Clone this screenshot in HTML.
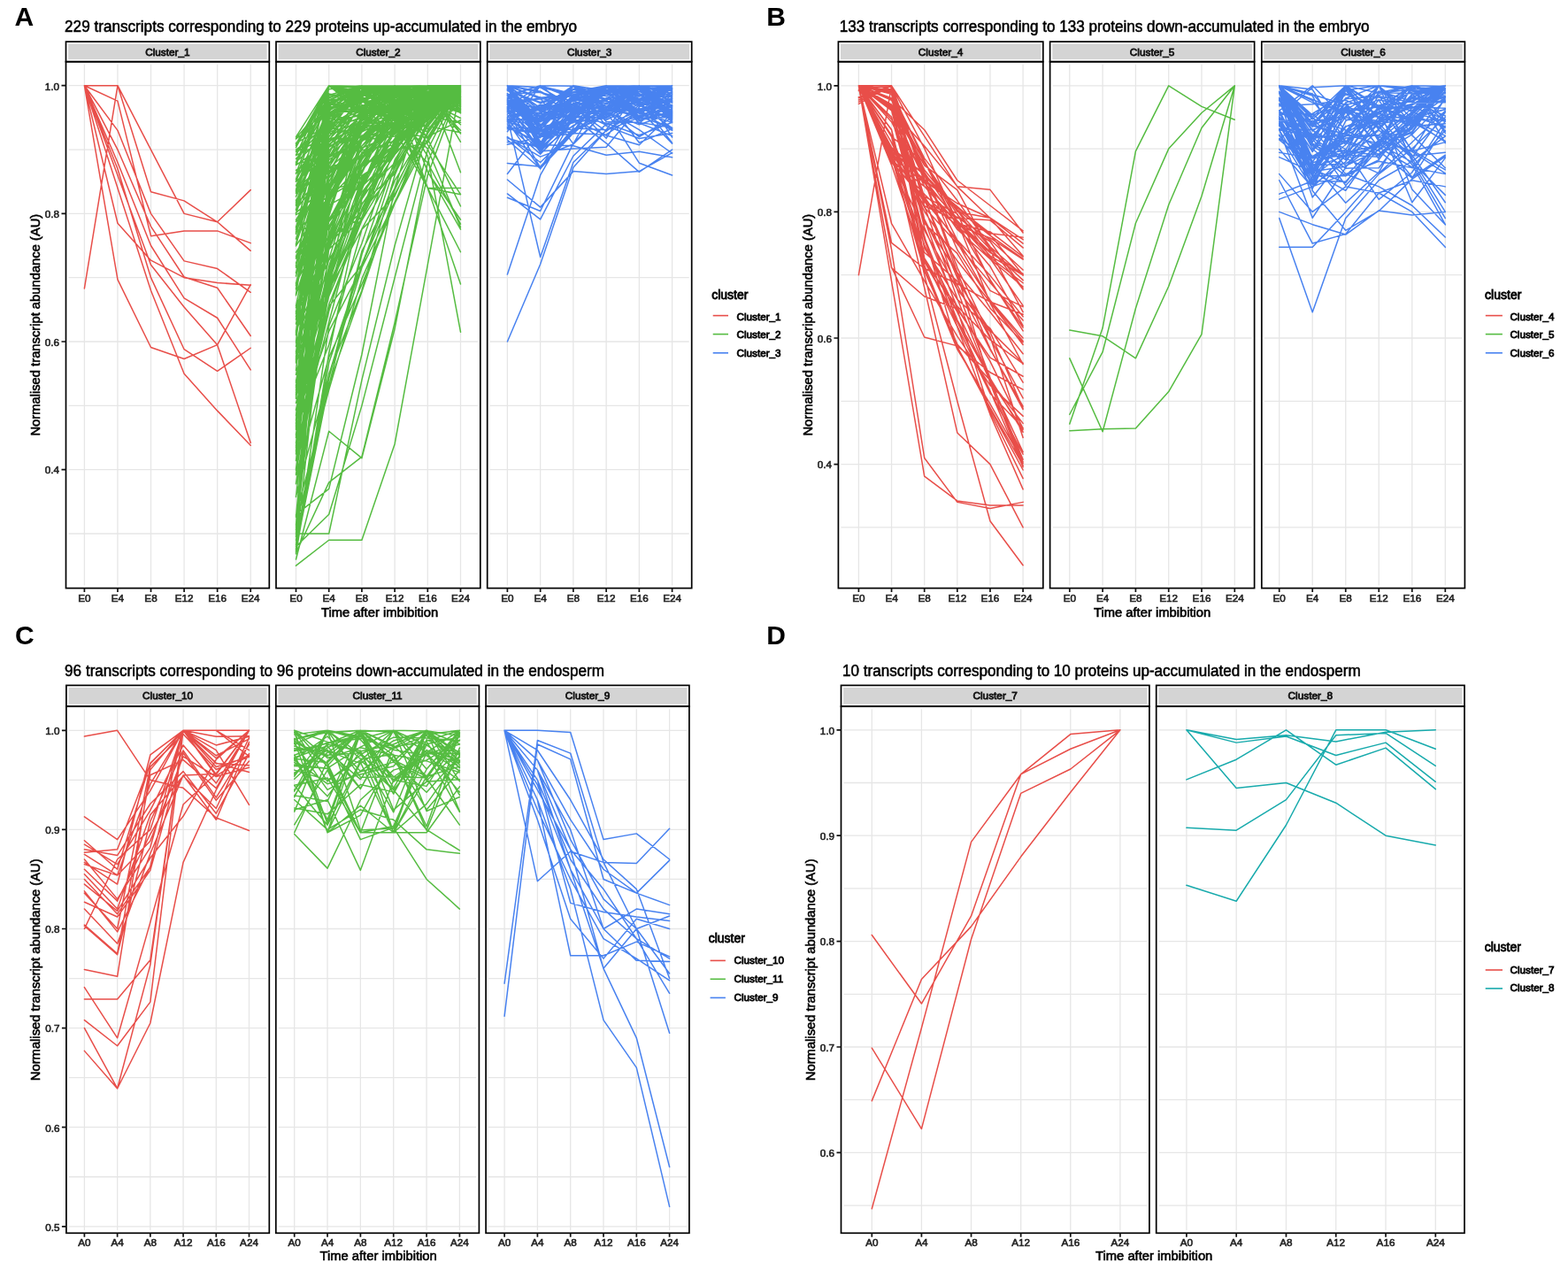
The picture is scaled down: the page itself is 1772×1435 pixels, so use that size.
<!DOCTYPE html><html><head><meta charset="utf-8"><title>Transcript abundance clusters</title>
<style>html,body{margin:0;padding:0;background:#fff;}svg{display:block;}text{font-family:"Liberation Sans", Arial, sans-serif;}.b{stroke:currentColor;stroke-width:0.6px;}.s{stroke:currentColor;stroke-width:0.8px;}.m{stroke:currentColor;stroke-width:0.55px;}</style></head><body>
<svg width="1772" height="1435" viewBox="0 0 1772 1435">
<rect width="1772" height="1435" fill="#fff"/>
<text x="16.4" y="28.9" font-size="30" font-weight="bold" fill="#000">A</text>
<text class="m" x="73.1" y="35.9" font-size="18" fill="#000" color="#000" textLength="579" lengthAdjust="spacingAndGlyphs">229 transcripts corresponding to 229 proteins up-accumulated in the embryo</text>
<rect x="74.5" y="47.1" width="229.8" height="22.6" fill="#fff" stroke="#000" stroke-width="1.7"/>
<rect x="77.1" y="49.7" width="224.6" height="17.4" fill="#D4D4D4"/>
<text class="s" x="189.4" y="63.1" font-size="11.8" fill="#111" color="#111" text-anchor="middle">Cluster_1</text>
<path d="M77.5 169.03H301.3M77.5 313.69H301.3M77.5 458.35H301.3M77.5 603.01H301.3M77.5 96.7H301.3M77.5 241.36H301.3M77.5 386.02H301.3M77.5 530.68H301.3M95.4 72.7V661.6M132.96 72.7V661.6M170.52 72.7V661.6M208.08 72.7V661.6M245.64 72.7V661.6M283.2 72.7V661.6" stroke="#E6E6E6" stroke-width="1.3" fill="none"/>
<path d="M95.4 96.7L132.96 96.7L170.52 169.03L208.08 241.36L245.64 250.76L283.2 214.6M95.4 325.99L132.96 96.7L170.52 216.77L208.08 226.89L245.64 250.76L283.2 283.31M95.4 96.7L132.96 114.06L170.52 266.68L208.08 260.89L245.64 260.89L283.2 274.63M95.4 96.7L132.96 252.21L170.52 294.16L208.08 313.69L245.64 319.48L283.2 322.37M95.4 96.7L132.96 315.86L170.52 392.53L208.08 405.55L245.64 389.64L283.2 321.65M95.4 96.7L132.96 147.33L170.52 241.36L208.08 294.88L245.64 303.56L283.2 330.33M95.4 96.7L132.96 169.03L170.52 255.83L208.08 312.97L245.64 325.26L283.2 379.51M95.4 96.7L132.96 183.5L170.52 277.52L208.08 336.84L245.64 359.26L283.2 417.85M95.4 96.7L132.96 197.96L170.52 299.22L208.08 346.96L245.64 389.64L283.2 500.3M95.4 96.7L132.96 190.73L170.52 313.69L208.08 394.7L245.64 419.29L283.2 393.25M95.4 96.7L132.96 212.43L170.52 328.16L208.08 422.18L245.64 464.14L283.2 503.19" stroke="#E84E49" stroke-width="1.5" fill="none" stroke-linejoin="round" stroke-linecap="round"/>
<rect x="74.5" y="69.7" width="229.8" height="594.9" fill="none" stroke="#000" stroke-width="1.7"/>
<path d="M95.4 664.6V669.1M132.96 664.6V669.1M170.52 664.6V669.1M208.08 664.6V669.1M245.64 664.6V669.1M283.2 664.6V669.1" stroke="#111" stroke-width="1.7" fill="none"/>
<text class="b" x="95.4" y="680.2" font-size="11.7" fill="#222" color="#222" text-anchor="middle">E0</text>
<text class="b" x="132.96" y="680.2" font-size="11.7" fill="#222" color="#222" text-anchor="middle">E4</text>
<text class="b" x="170.52" y="680.2" font-size="11.7" fill="#222" color="#222" text-anchor="middle">E8</text>
<text class="b" x="208.08" y="680.2" font-size="11.7" fill="#222" color="#222" text-anchor="middle">E12</text>
<text class="b" x="245.64" y="680.2" font-size="11.7" fill="#222" color="#222" text-anchor="middle">E16</text>
<text class="b" x="283.2" y="680.2" font-size="11.7" fill="#222" color="#222" text-anchor="middle">E24</text>
<rect x="312" y="47.1" width="230.8" height="22.6" fill="#fff" stroke="#000" stroke-width="1.7"/>
<rect x="314.6" y="49.7" width="225.6" height="17.4" fill="#D4D4D4"/>
<text class="s" x="427.4" y="63.1" font-size="11.8" fill="#111" color="#111" text-anchor="middle">Cluster_2</text>
<path d="M315 169.03H539.8M315 313.69H539.8M315 458.35H539.8M315 603.01H539.8M315 96.7H539.8M315 241.36H539.8M315 386.02H539.8M315 530.68H539.8M334.5 72.7V661.6M371.7 72.7V661.6M408.9 72.7V661.6M446.1 72.7V661.6M483.3 72.7V661.6M520.5 72.7V661.6" stroke="#E6E6E6" stroke-width="1.3" fill="none"/>
<path d="M334.5 175.06L371.7 96.7L408.9 121.36L446.1 136.55L483.3 142.62L520.5 149.75M334.5 166.73L371.7 97.76L408.9 99.59L446.1 96.7L483.3 106.38L520.5 115.55M334.5 404.31L371.7 324.24L408.9 239.59L446.1 193.76L483.3 120.41L520.5 96.7M334.5 446.39L371.7 174.06L408.9 96.7L446.1 113.57L483.3 119.51L520.5 108.6M334.5 450.04L371.7 210.57L408.9 122.5L446.1 134.81L483.3 130.26L520.5 96.7M334.5 156.33L371.7 112.12L408.9 124.63L446.1 121.13L483.3 123.43L520.5 96.7M334.5 250.25L371.7 214.9L408.9 205.02L446.1 147.48L483.3 130.94L520.5 96.7M334.5 186.58L371.7 160.65L408.9 131.43L446.1 110.86L483.3 96.7L520.5 96.91M334.5 623.59L371.7 132.27L408.9 119.35L446.1 108.17L483.3 98.97L520.5 96.7M334.5 240.41L371.7 208.89L408.9 169.8L446.1 163.86L483.3 122.44L520.5 96.7M334.5 500.25L371.7 270.4L408.9 164.86L446.1 134.18L483.3 117.06L520.5 96.7M334.5 308.28L371.7 257.75L408.9 203.88L446.1 156.8L483.3 96.7L520.5 123.91M334.5 156.98L371.7 128.3L408.9 111L446.1 109.87L483.3 121.23L520.5 96.7M334.5 276.09L371.7 110.83L408.9 96.7L446.1 117.91L483.3 111.96L520.5 98.65M334.5 255.8L371.7 196.32L408.9 165.17L446.1 120.04L483.3 96.7L520.5 120.45M334.5 494.55L371.7 205.6L408.9 136.48L446.1 117.88L483.3 121.14L520.5 96.7M334.5 351.58L371.7 281.47L408.9 248.31L446.1 157.48L483.3 125.44L520.5 96.7M334.5 445.59L371.7 157.44L408.9 144.78L446.1 119.35L483.3 96.7L520.5 108.02M334.5 408.39L371.7 274.67L408.9 194.12L446.1 105.29L483.3 105.21L520.5 96.7M334.5 397.44L371.7 212.48L408.9 175.12L446.1 118.14L483.3 100.65L520.5 96.7M334.5 217.01L371.7 129.49L408.9 112.22L446.1 96.7L483.3 108.95L520.5 125.68M334.5 535.53L371.7 313.41L408.9 154.18L446.1 116.47L483.3 96.7L520.5 97.44M334.5 289.89L371.7 231.89L408.9 210.89L446.1 174.67L483.3 96.7L520.5 120.8M334.5 240.77L371.7 144.21L408.9 105.09L446.1 96.7L483.3 121.44L520.5 98.28M334.5 276.31L371.7 140.32L408.9 96.7L446.1 123.78L483.3 121.5L520.5 122.03M334.5 277.69L371.7 130.82L408.9 96.7L446.1 111.83L483.3 131.23L520.5 97.05M334.5 624.88L371.7 410L408.9 298.82L446.1 204.14L483.3 142.94L520.5 96.7M334.5 264.18L371.7 150.41L408.9 144.97L446.1 118.15L483.3 96.7L520.5 194.76M334.5 437.84L371.7 310.08L408.9 207.72L446.1 150.42L483.3 109.18L520.5 96.7M334.5 218.22L371.7 145.22L408.9 101.51L446.1 96.7L483.3 111.32L520.5 110.77M334.5 505.72L371.7 363.96L408.9 225.11L446.1 169.96L483.3 120.77L520.5 96.7M334.5 478.42L371.7 200.36L408.9 148.97L446.1 130.88L483.3 112.81L520.5 96.7M334.5 450.27L371.7 224.52L408.9 185.35L446.1 144.49L483.3 96.7L520.5 117.2M334.5 263.1L371.7 162.99L408.9 135.64L446.1 96.7L483.3 119.41L520.5 114.69M334.5 443.48L371.7 305.16L408.9 202.16L446.1 156.98L483.3 96.7L520.5 106.01M334.5 504.21L371.7 236.58L408.9 138.83L446.1 114.55L483.3 110.27L520.5 96.7M334.5 373.38L371.7 294.05L408.9 229.79L446.1 196.36L483.3 127.73L520.5 96.7M334.5 530.41L371.7 330.9L408.9 201.86L446.1 162.95L483.3 102.91L520.5 96.7M334.5 230.41L371.7 194.29L408.9 131.81L446.1 142.45L483.3 124.67L520.5 96.7M334.5 202.87L371.7 140.25L408.9 124.75L446.1 119.93L483.3 101.04L520.5 96.7M334.5 584.2L371.7 184.63L408.9 127.35L446.1 106.52L483.3 105.76L520.5 96.7M334.5 376.69L371.7 216.02L408.9 154.63L446.1 127.61L483.3 108.42L520.5 96.7M334.5 308.43L371.7 148.63L408.9 113.82L446.1 97.8L483.3 96.7L520.5 103.44M334.5 387.63L371.7 278.19L408.9 217.51L446.1 169.19L483.3 161.22L520.5 96.7M334.5 205.25L371.7 169.54L408.9 145.86L446.1 130.57L483.3 118.64L520.5 96.7M334.5 259.58L371.7 141.53L408.9 120.17L446.1 136.25L483.3 108.5L520.5 96.7M334.5 529.83L371.7 260.62L408.9 157.34L446.1 141.58L483.3 124.54L520.5 96.7M334.5 164.43L371.7 105.94L408.9 114.51L446.1 133.61L483.3 96.7L520.5 127.88M334.5 448.18L371.7 314.5L408.9 220.57L446.1 167.35L483.3 129.33L520.5 96.7M334.5 326.21L371.7 185.57L408.9 143.29L446.1 140.37L483.3 106.1L520.5 96.7M334.5 490.59L371.7 265.83L408.9 159.38L446.1 129.72L483.3 107.63L520.5 96.7M334.5 236.73L371.7 188.92L408.9 178.02L446.1 139.47L483.3 117.39L520.5 96.7M334.5 357.57L371.7 229.45L408.9 157.1L446.1 131.85L483.3 123.66L520.5 96.7M334.5 357.44L371.7 275.07L408.9 238.72L446.1 138.96L483.3 117.2L520.5 96.7M334.5 546.7L371.7 331.18L408.9 231.04L446.1 174.77L483.3 133.51L520.5 96.7M334.5 333.71L371.7 214.09L408.9 147.02L446.1 105.76L483.3 105.07L520.5 96.7M334.5 183.27L371.7 149.03L408.9 139.1L446.1 138.69L483.3 103.29L520.5 96.7M334.5 595.35L371.7 435.53L408.9 287.51L446.1 180.92L483.3 119.91L520.5 96.7M334.5 406.46L371.7 135.43L408.9 108.9L446.1 136.05L483.3 97.2L520.5 96.7M334.5 171.55L371.7 154.25L408.9 108.89L446.1 98.21L483.3 96.7L520.5 160.3M334.5 455.34L371.7 325.55L408.9 245.46L446.1 141.61L483.3 96.7L520.5 102.9M334.5 192.34L371.7 165.89L408.9 142.98L446.1 142.1L483.3 122.44L520.5 96.7M334.5 437.84L371.7 96.7L408.9 104.55L446.1 98.99L483.3 115.84L520.5 114.39M334.5 326.82L371.7 157.44L408.9 121.55L446.1 96.7L483.3 115.01L520.5 127.41M334.5 277.86L371.7 221.51L408.9 148.77L446.1 113.33L483.3 96.7L520.5 104.59M334.5 483.84L371.7 389.67L408.9 259.3L446.1 221.6L483.3 139.25L520.5 96.7M334.5 276.52L371.7 129.89L408.9 107.04L446.1 101.54L483.3 96.7L520.5 113.93M334.5 184.83L371.7 117.9L408.9 122.5L446.1 96.7L483.3 126.77L520.5 118.98M334.5 620.01L371.7 434.37L408.9 329.86L446.1 219.29L483.3 150.34L520.5 96.7M334.5 375.24L371.7 113.54L408.9 96.7L446.1 107.39L483.3 112.5L520.5 126.51M334.5 347.76L371.7 240.28L408.9 133.88L446.1 104.29L483.3 99.37L520.5 96.7M334.5 621.69L371.7 278.14L408.9 130.9L446.1 96.7L483.3 194.35L520.5 248.23M334.5 361.06L371.7 124.98L408.9 104.41L446.1 117.52L483.3 115.82L520.5 96.7M334.5 257.34L371.7 113.41L408.9 108L446.1 96.7L483.3 111.54L520.5 99.84M334.5 482.07L371.7 374.32L408.9 302.34L446.1 228.4L483.3 150.89L520.5 96.7M334.5 209.96L371.7 128.74L408.9 139.19L446.1 115.98L483.3 96.7L520.5 104.12M334.5 292.03L371.7 158.35L408.9 105.97L446.1 118.79L483.3 97.4L520.5 96.7M334.5 169.44L371.7 139.5L408.9 103.83L446.1 127.95L483.3 116.17L520.5 96.7M334.5 504.29L371.7 130.8L408.9 110.25L446.1 130.72L483.3 100.04L520.5 96.7M334.5 598.66L371.7 280.36L408.9 184.58L446.1 126.99L483.3 142.74L520.5 96.7M334.5 531.28L371.7 302.01L408.9 213.1L446.1 146.3L483.3 114.35L520.5 96.7M334.5 352.39L371.7 194.91L408.9 160.02L446.1 130.77L483.3 103.82L520.5 96.7M334.5 509.07L371.7 344.16L408.9 249.03L446.1 186.23L483.3 121.36L520.5 96.7M334.5 375.71L371.7 248.52L408.9 195.93L446.1 118.97L483.3 107.15L520.5 96.7M334.5 216.67L371.7 190.74L408.9 155.96L446.1 108.76L483.3 105.07L520.5 96.7M334.5 409.96L371.7 141.81L408.9 144.53L446.1 119.84L483.3 96.7L520.5 120.3M334.5 593.45L371.7 119.98L408.9 128.87L446.1 99.05L483.3 96.7L520.5 124.3M334.5 237.15L371.7 96.7L408.9 128.02L446.1 124.67L483.3 118.23L520.5 104.64M334.5 175.48L371.7 158.39L408.9 143.57L446.1 100.92L483.3 96.7L520.5 102.58M334.5 300.72L371.7 96.7L408.9 113.74L446.1 122.33L483.3 108.08L520.5 111.37M334.5 226.47L371.7 163.62L408.9 136.48L446.1 108.15L483.3 108.71L520.5 96.7M334.5 332.13L371.7 116.24L408.9 121.52L446.1 119.25L483.3 97.87L520.5 96.7M334.5 185.85L371.7 105.88L408.9 121.26L446.1 96.7L483.3 131.5L520.5 138.31M334.5 432.24L371.7 327.66L408.9 258.83L446.1 189.9L483.3 124.59L520.5 96.7M334.5 231.03L371.7 126.74L408.9 125.67L446.1 118.36L483.3 96.7L520.5 109.39M334.5 269.94L371.7 154.57L408.9 115.78L446.1 96.7L483.3 120.05L520.5 113.02M334.5 162.7L371.7 116.24L408.9 105.82L446.1 104.03L483.3 111.52L520.5 96.7M334.5 232.41L371.7 149.7L408.9 96.7L446.1 146.53L483.3 184.01L520.5 253.15M334.5 319.56L371.7 250.57L408.9 206.4L446.1 139.09L483.3 124.79L520.5 96.7M334.5 242.71L371.7 222.27L408.9 199.79L446.1 167.64L483.3 106.97L520.5 96.7M334.5 248.69L371.7 184.77L408.9 152.98L446.1 151.71L483.3 122.26L520.5 96.7M334.5 308.23L371.7 267.83L408.9 245.72L446.1 158.86L483.3 106.22L520.5 96.7M334.5 307.38L371.7 257.31L408.9 180.34L446.1 132.55L483.3 96.7L520.5 100.07M334.5 183.03L371.7 119.59L408.9 96.7L446.1 130.25L483.3 117.77L520.5 116.15M334.5 332.54L371.7 249.12L408.9 179.5L446.1 145.48L483.3 142.15L520.5 96.7M334.5 214.25L371.7 107.13L408.9 111.76L446.1 107.2L483.3 96.7L520.5 116.77M334.5 179.49L371.7 136.63L408.9 130.39L446.1 117.16L483.3 96.7L520.5 97.76M334.5 204.7L371.7 121.8L408.9 113.92L446.1 96.7L483.3 145.81L520.5 118.14M334.5 354.62L371.7 218.48L408.9 120.32L446.1 113.87L483.3 98.83L520.5 96.7M334.5 463.3L371.7 300.92L408.9 188.27L446.1 119.47L483.3 110.93L520.5 96.7M334.5 606.57L371.7 120.31L408.9 96.7L446.1 98.3L483.3 103.73L520.5 96.79M334.5 195.53L371.7 177.57L408.9 140.06L446.1 138.26L483.3 148.8L520.5 96.7M334.5 399.13L371.7 268.04L408.9 172.28L446.1 159L483.3 136.01L520.5 96.7M334.5 161.63L371.7 141.6L408.9 128.32L446.1 120.16L483.3 96.7L520.5 97.66M334.5 262.23L371.7 140.7L408.9 104.14L446.1 96.7L483.3 107.97L520.5 100.13M334.5 322.66L371.7 148.39L408.9 96.7L446.1 118.74L483.3 114.79L520.5 133.47M334.5 546.23L371.7 322.96L408.9 177.03L446.1 142.98L483.3 96.7L520.5 114.77M334.5 582.62L371.7 440.48L408.9 315.14L446.1 229.49L483.3 139.67L520.5 96.7M334.5 560.6L371.7 423.59L408.9 302.53L446.1 187.93L483.3 134.33L520.5 96.7M334.5 275.57L371.7 170.3L408.9 129.23L446.1 96.7L483.3 116.56L520.5 102.03M334.5 196.21L371.7 96.7L408.9 126.73L446.1 125.04L483.3 109L520.5 140.77M334.5 312.01L371.7 178.35L408.9 126.66L446.1 125.44L483.3 112.96L520.5 96.7M334.5 391.42L371.7 222.67L408.9 159.17L446.1 100.6L483.3 96.7L520.5 105.17M334.5 215.34L371.7 177.95L408.9 158.72L446.1 123.15L483.3 125.05L520.5 96.7M334.5 297.12L371.7 224.16L408.9 168.14L446.1 129.93L483.3 106.77L520.5 96.7M334.5 625.82L371.7 399.24L408.9 224.83L446.1 144.99L483.3 120.81L520.5 96.7M334.5 621.41L371.7 368.55L408.9 275.01L446.1 164.6L483.3 126.06L520.5 96.7M334.5 410L371.7 107.51L408.9 96.7L446.1 96.93L483.3 112.19L520.5 109.5M334.5 491.81L371.7 346.39L408.9 299.57L446.1 214.66L483.3 136.71L520.5 96.7M334.5 500.5L371.7 225.68L408.9 131.57L446.1 126.25L483.3 122.28L520.5 96.7M334.5 345.73L371.7 166.3L408.9 147.2L446.1 96.7L483.3 97.14L520.5 115.73M334.5 603.55L371.7 109.49L408.9 98.91L446.1 116.27L483.3 96.7L520.5 123.02M334.5 406.44L371.7 96.7L408.9 97.48L446.1 113.18L483.3 103.05L520.5 112.81M334.5 620.77L371.7 427.78L408.9 283.87L446.1 212.69L483.3 141.42L520.5 96.7M334.5 423.29L371.7 274.06L408.9 177.18L446.1 137.84L483.3 96.7L520.5 150.84M334.5 378.2L371.7 123.5L408.9 96.7L446.1 98.89L483.3 103.17L520.5 104.05M334.5 302.15L371.7 255.73L408.9 192.81L446.1 149.22L483.3 155.04L520.5 96.7M334.5 218.52L371.7 178.2L408.9 138.42L446.1 130.42L483.3 112.05L520.5 96.7M334.5 325.92L371.7 180.42L408.9 157.52L446.1 140.82L483.3 127.82L520.5 96.7M334.5 432.23L371.7 220.91L408.9 167.2L446.1 151.66L483.3 96.7L520.5 104.55M334.5 448.11L371.7 292.81L408.9 174.39L446.1 146.61L483.3 132.7L520.5 96.7M334.5 479.24L371.7 117.51L408.9 96.7L446.1 107.41L483.3 100.1L520.5 109.25M334.5 440.94L371.7 250.19L408.9 188.93L446.1 124.12L483.3 112.43L520.5 96.7M334.5 262L371.7 247.82L408.9 187.9L446.1 166.75L483.3 133.34L520.5 96.7M334.5 202.47L371.7 96.7L408.9 109.8L446.1 131.12L483.3 168.17L520.5 256.76M334.5 512.95L371.7 217.95L408.9 129.59L446.1 96.7L483.3 163.32L520.5 219.64M334.5 378.57L371.7 226.73L408.9 142.84L446.1 96.7L483.3 97.65L520.5 108.92M334.5 289.7L371.7 200.99L408.9 158.34L446.1 146.89L483.3 129.87L520.5 96.7M334.5 409.78L371.7 321.32L408.9 239L446.1 161.39L483.3 99.46L520.5 96.7M334.5 583.95L371.7 318.67L408.9 214.55L446.1 121.66L483.3 122.47L520.5 96.7M334.5 164.47L371.7 100.83L408.9 96.7L446.1 102.83L483.3 107.16L520.5 147.2M334.5 353.58L371.7 211.84L408.9 144.32L446.1 100.61L483.3 100.68L520.5 96.7M334.5 403.04L371.7 165.61L408.9 109.69L446.1 140.2L483.3 122.28L520.5 96.7M334.5 418.53L371.7 122.43L408.9 115.56L446.1 108.87L483.3 96.7L520.5 105.03M334.5 183.38L371.7 112.91L408.9 96.7L446.1 112.1L483.3 130.92L520.5 103.13M334.5 263.09L371.7 223.31L408.9 173.15L446.1 139.97L483.3 96.7L520.5 99.86M334.5 509.04L371.7 231.24L408.9 132.54L446.1 96.7L483.3 193.8L520.5 259.11M334.5 175.02L371.7 115.35L408.9 104.6L446.1 105.05L483.3 96.7L520.5 103.9M334.5 374.52L371.7 115.8L408.9 122.17L446.1 149.57L483.3 96.7L520.5 113.93M334.5 481.33L371.7 220.54L408.9 155.6L446.1 131.69L483.3 116.87L520.5 96.7M334.5 222.12L371.7 146.6L408.9 96.7L446.1 107.27L483.3 111.81L520.5 117.14M334.5 215.28L371.7 131.89L408.9 112.34L446.1 137.09L483.3 96.7L520.5 106.6M334.5 510.03L371.7 351.54L408.9 236.19L446.1 160.6L483.3 123.35L520.5 96.7M334.5 226.39L371.7 177.74L408.9 114.84L446.1 96.7L483.3 156.93L520.5 233.03M334.5 196.26L371.7 147.49L408.9 131.92L446.1 115.46L483.3 120.6L520.5 96.7M334.5 616.07L371.7 188.85L408.9 133.92L446.1 119.62L483.3 120.07L520.5 96.7M334.5 475.26L371.7 128.19L408.9 114.53L446.1 112.85L483.3 96.7L520.5 100.59M334.5 228.61L371.7 127.99L408.9 103.1L446.1 96.7L483.3 106.07L520.5 101.37M334.5 536.58L371.7 403.76L408.9 321.43L446.1 229.87L483.3 157.93L520.5 96.7M334.5 215.76L371.7 121.59L408.9 124.42L446.1 108.57L483.3 96.7L520.5 112.46M334.5 171.4L371.7 138.68L408.9 96.7L446.1 130.82L483.3 154.58L520.5 135.75M334.5 469.8L371.7 126.34L408.9 123.76L446.1 96.7L483.3 107.73L520.5 111.33M334.5 320.75L371.7 156.97L408.9 155.51L446.1 126.42L483.3 96.7L520.5 115.73M334.5 204.58L371.7 175.87L408.9 143.55L446.1 151.92L483.3 110.14L520.5 96.7M334.5 474.75L371.7 133.66L408.9 96.7L446.1 110.74L483.3 98.35L520.5 109.95M334.5 366L371.7 197.75L408.9 125.12L446.1 96.7L483.3 110.07L520.5 120.01M334.5 333.03L371.7 96.7L408.9 100.33L446.1 108.16L483.3 107.79L520.5 150.92M334.5 285.13L371.7 226.57L408.9 168.7L446.1 128.26L483.3 113.48L520.5 96.7M334.5 477.63L371.7 327.98L408.9 221.3L446.1 183.93L483.3 109.57L520.5 96.7M334.5 162.76L371.7 96.7L408.9 106.45L446.1 123.34L483.3 124.01L520.5 122.69M334.5 300.49L371.7 164.76L408.9 120.02L446.1 96.7L483.3 109.78L520.5 117.27M334.5 485.2L371.7 334.64L408.9 247.4L446.1 171.77L483.3 121.03L520.5 96.7M334.5 406.96L371.7 279.73L408.9 186.95L446.1 164.53L483.3 116.42L520.5 96.7M334.5 520.47L371.7 225.06L408.9 148.01L446.1 113.25L483.3 112.4L520.5 96.7M334.5 430.17L371.7 282.11L408.9 198.37L446.1 174.71L483.3 129.9L520.5 96.7M334.5 462.57L371.7 311.61L408.9 220.6L446.1 161.36L483.3 123.11L520.5 96.7M334.5 561.46L371.7 244.23L408.9 129.18L446.1 118.2L483.3 115.04L520.5 96.7M334.5 435.3L371.7 309.63L408.9 210.59L446.1 121.76L483.3 105.04L520.5 96.7M334.5 184.91L371.7 176.72L408.9 158.37L446.1 154.1L483.3 124.5L520.5 96.7M334.5 322.17L371.7 216.07L408.9 154.03L446.1 124.72L483.3 109.54L520.5 96.7M334.5 639.18L371.7 610.24L408.9 610.24L446.1 501.75L483.3 299.22L520.5 96.7M334.5 624.71L371.7 545.15L408.9 516.21L446.1 364.32L483.3 197.96L520.5 96.7M334.5 603.01L371.7 603.01L408.9 429.42L446.1 277.52L483.3 147.33L520.5 96.7M334.5 581.31L371.7 552.38L408.9 400.49L446.1 212.43L483.3 96.7L520.5 118.4M334.5 610.24L371.7 422.18L408.9 328.16L446.1 197.96L483.3 111.17L520.5 96.7M334.5 631.94L371.7 487.28L408.9 517.66L446.1 371.55L483.3 183.5L520.5 96.7M334.5 617.48L371.7 581.31L408.9 458.35L446.1 313.69L483.3 169.03L520.5 96.7M334.5 154.56L371.7 96.7L408.9 111.17L446.1 125.63L483.3 212.43L520.5 212.43M334.5 161.8L371.7 125.63L408.9 96.7L446.1 103.93L483.3 212.43L520.5 219.66M334.5 183.5L371.7 96.7L408.9 103.93L446.1 118.4L483.3 176.26L520.5 375.17M334.5 241.36L371.7 96.7L408.9 118.4L446.1 132.87L483.3 212.43L520.5 320.92M334.5 386.02L371.7 96.7L408.9 111.17L446.1 147.33L483.3 212.43L520.5 284.76" stroke="#55BC41" stroke-width="1.5" fill="none" stroke-linejoin="round" stroke-linecap="round"/>
<rect x="312" y="69.7" width="230.8" height="594.9" fill="none" stroke="#000" stroke-width="1.7"/>
<path d="M334.5 664.6V669.1M371.7 664.6V669.1M408.9 664.6V669.1M446.1 664.6V669.1M483.3 664.6V669.1M520.5 664.6V669.1" stroke="#111" stroke-width="1.7" fill="none"/>
<text class="b" x="334.5" y="680.2" font-size="11.7" fill="#222" color="#222" text-anchor="middle">E0</text>
<text class="b" x="371.7" y="680.2" font-size="11.7" fill="#222" color="#222" text-anchor="middle">E4</text>
<text class="b" x="408.9" y="680.2" font-size="11.7" fill="#222" color="#222" text-anchor="middle">E8</text>
<text class="b" x="446.1" y="680.2" font-size="11.7" fill="#222" color="#222" text-anchor="middle">E12</text>
<text class="b" x="483.3" y="680.2" font-size="11.7" fill="#222" color="#222" text-anchor="middle">E16</text>
<text class="b" x="520.5" y="680.2" font-size="11.7" fill="#222" color="#222" text-anchor="middle">E24</text>
<rect x="550.7" y="47.1" width="231" height="22.6" fill="#fff" stroke="#000" stroke-width="1.7"/>
<rect x="553.3" y="49.7" width="225.8" height="17.4" fill="#D4D4D4"/>
<text class="s" x="666.2" y="63.1" font-size="11.8" fill="#111" color="#111" text-anchor="middle">Cluster_3</text>
<path d="M553.7 169.03H778.7M553.7 313.69H778.7M553.7 458.35H778.7M553.7 603.01H778.7M553.7 96.7H778.7M553.7 241.36H778.7M553.7 386.02H778.7M553.7 530.68H778.7M573.4 72.7V661.6M610.64 72.7V661.6M647.88 72.7V661.6M685.12 72.7V661.6M722.36 72.7V661.6M759.6 72.7V661.6" stroke="#E6E6E6" stroke-width="1.3" fill="none"/>
<path d="M573.4 101.09L610.64 142.87L647.88 109.92L685.12 96.7L722.36 136.42L759.6 125.57M573.4 144.23L610.64 144.7L647.88 131.86L685.12 96.7L722.36 97.15L759.6 103.08M573.4 96.7L610.64 137.36L647.88 129.41L685.12 123.32L722.36 131.47L759.6 114.37M573.4 163.26L610.64 155.26L647.88 136.42L685.12 99.15L722.36 114.79L759.6 96.7M573.4 96.7L610.64 151.97L647.88 138.59L685.12 120.37L722.36 131.56L759.6 144.85M573.4 110.52L610.64 125.22L647.88 97.68L685.12 105.41L722.36 96.7L759.6 137.53M573.4 116.9L610.64 110.81L647.88 162.6L685.12 96.7L722.36 116.02L759.6 126.33M573.4 125.49L610.64 127.16L647.88 112.99L685.12 96.7L722.36 120.25L759.6 100.67M573.4 148.74L610.64 96.7L647.88 127.08L685.12 128.01L722.36 103.44L759.6 116.14M573.4 134.62L610.64 137.47L647.88 112.95L685.12 103.69L722.36 103.35L759.6 96.7M573.4 96.7L610.64 163.41L647.88 164.76L685.12 175.26L722.36 171.23L759.6 177.81M573.4 113.14L610.64 124.16L647.88 148.47L685.12 130.6L722.36 96.7L759.6 155.13M573.4 112.16L610.64 152.27L647.88 121.65L685.12 105.07L722.36 96.7L759.6 115.66M573.4 96.7L610.64 147.88L647.88 130.67L685.12 139.23L722.36 152.68L759.6 138.23M573.4 96.7L610.64 140.73L647.88 146.93L685.12 126.35L722.36 113.05L759.6 114.42M573.4 126.42L610.64 136.76L647.88 123.78L685.12 96.7L722.36 125.72L759.6 138.66M573.4 100.24L610.64 153.5L647.88 111.76L685.12 100.1L722.36 96.7L759.6 127.37M573.4 135.95L610.64 170.53L647.88 141.59L685.12 124.86L722.36 96.7L759.6 108.13M573.4 113.81L610.64 111.96L647.88 107.46L685.12 117.09L722.36 101.4L759.6 96.7M573.4 139.14L610.64 128.61L647.88 124.56L685.12 106.37L722.36 96.7L759.6 138.62M573.4 122.78L610.64 153.64L647.88 118.17L685.12 114.17L722.36 130.92L759.6 96.7M573.4 137.33L610.64 119.63L647.88 119.59L685.12 96.7L722.36 118.14L759.6 134.56M573.4 96.7L610.64 142.13L647.88 101.07L685.12 111.74L722.36 119.19L759.6 114.01M573.4 196.46L610.64 147.46L647.88 96.7L685.12 142.34L722.36 156.56L759.6 150.43M573.4 96.7L610.64 111.47L647.88 108.17L685.12 127.91L722.36 122.79L759.6 133.84M573.4 110.84L610.64 124.64L647.88 135.15L685.12 96.7L722.36 139.41L759.6 106.65M573.4 145.66L610.64 151.27L647.88 132.75L685.12 132.29L722.36 107.39L759.6 96.7M573.4 121.68L610.64 130.58L647.88 118.79L685.12 156.24L722.36 96.7L759.6 121.91M573.4 96.7L610.64 124.92L647.88 135.09L685.12 152.99L722.36 163.73L759.6 127.96M573.4 96.7L610.64 103.19L647.88 122.93L685.12 121.09L722.36 115.79L759.6 146.57M573.4 101.58L610.64 116.47L647.88 106.99L685.12 96.7L722.36 97.53L759.6 105.49M573.4 134.16L610.64 155.43L647.88 116.45L685.12 124.99L722.36 96.7L759.6 135.69M573.4 115.13L610.64 149.06L647.88 138.19L685.12 133.56L722.36 112.64L759.6 96.7M573.4 105.57L610.64 152.27L647.88 130.5L685.12 99.19L722.36 116.89L759.6 96.7M573.4 100.2L610.64 135.44L647.88 96.7L685.12 122.29L722.36 106.63L759.6 125.56M573.4 143.77L610.64 162.15L647.88 96.7L685.12 126.51L722.36 140.79L759.6 128.3M573.4 123.67L610.64 171.08L647.88 168.08L685.12 166.27L722.36 121.08L759.6 96.7M573.4 96.7L610.64 98.77L647.88 120.17L685.12 123.67L722.36 123.11L759.6 119.57M573.4 112.48L610.64 132.43L647.88 119.26L685.12 96.7L722.36 135.87L759.6 127.29M573.4 108.78L610.64 96.7L647.88 125.71L685.12 103.53L722.36 107.34L759.6 109.47M573.4 137.11L610.64 152.61L647.88 143.19L685.12 96.7L722.36 138.95L759.6 153.67M573.4 106.37L610.64 142.63L647.88 116.83L685.12 135.47L722.36 117.53L759.6 96.7M573.4 96.7L610.64 135.8L647.88 128.89L685.12 117.41L722.36 124.46L759.6 110.71M573.4 125.65L610.64 123.52L647.88 117.36L685.12 105.36L722.36 96.7L759.6 129.22M573.4 155.36L610.64 177.14L647.88 163.02L685.12 125.78L722.36 96.7L759.6 131.44M573.4 157.99L610.64 190.56L647.88 150.41L685.12 152.22L722.36 126.5L759.6 96.7M573.4 96.7L610.64 146.61L647.88 107.97L685.12 97.99L722.36 105.59L759.6 119.17M573.4 113.88L610.64 143.74L647.88 96.7L685.12 125.02L722.36 146.65L759.6 173.25M573.4 107.84L610.64 154.52L647.88 151.17L685.12 116.32L722.36 96.7L759.6 131.01M573.4 120.49L610.64 96.7L647.88 97.28L685.12 114L722.36 123.64L759.6 162.28M573.4 96.7L610.64 110.29L647.88 107.16L685.12 114.76L722.36 118.42L759.6 144.7M573.4 96.7L610.64 166.7L647.88 118.63L685.12 127.62L722.36 113.25L759.6 107.63M573.4 130.96L610.64 165.64L647.88 107.84L685.12 96.7L722.36 128.43L759.6 131.08M573.4 121.99L610.64 160.45L647.88 142.84L685.12 110.76L722.36 96.7L759.6 105.62M573.4 143.24L610.64 161.92L647.88 124.2L685.12 96.7L722.36 111.47L759.6 99.84M573.4 114.66L610.64 172.39L647.88 124.59L685.12 96.7L722.36 113.36L759.6 161.5M573.4 117.29L610.64 141.42L647.88 108.43L685.12 114.71L722.36 113.44L759.6 96.7M573.4 96.7L610.64 104.42L647.88 121.87L685.12 148.38L722.36 118.86L759.6 111.65M573.4 107.24L610.64 162.54L647.88 112.25L685.12 98.16L722.36 96.7L759.6 99.03M573.4 156.04L610.64 167L647.88 134.43L685.12 96.7L722.36 107.3L759.6 101.75M573.4 127.11L610.64 133.52L647.88 100.55L685.12 101.49L722.36 107.3L759.6 96.7M573.4 102.09L610.64 126.17L647.88 96.7L685.12 137.43L722.36 138.37L759.6 144.16M573.4 135.73L610.64 118.21L647.88 121.72L685.12 129.59L722.36 96.7L759.6 133.99M573.4 105.96L610.64 131.4L647.88 112.08L685.12 122.21L722.36 96.7L759.6 114.19M573.4 143.24L610.64 151.92L647.88 148.55L685.12 96.7L722.36 133.83L759.6 132.27M573.4 96.7L610.64 98.6L647.88 107.68L685.12 102.41L722.36 133.09L759.6 120.67M573.4 160.58L610.64 164.11L647.88 127.14L685.12 104.84L722.36 96.7L759.6 119.34M573.4 184.39L610.64 188.15L647.88 148.38L685.12 128.74L722.36 96.7L759.6 114.75M573.4 107.71L610.64 96.7L647.88 111.21L685.12 105.02L722.36 100.44L759.6 113.13M573.4 96.7L610.64 169.38L647.88 128.6L685.12 105.45L722.36 128.16L759.6 104.63M573.4 136.48L610.64 141.08L647.88 151.34L685.12 96.7L722.36 134.2L759.6 126.73M573.4 96.7L610.64 121.87L647.88 114.41L685.12 106.02L722.36 111.62L759.6 128.39M573.4 96.7L610.64 148.1L647.88 123.65L685.12 141.2L722.36 131.79L759.6 114.89M573.4 132.49L610.64 124.06L647.88 96.7L685.12 120.37L722.36 103.38L759.6 107.54M573.4 115.74L610.64 121.89L647.88 96.7L685.12 102.58L722.36 107.7L759.6 125.81M573.4 102.49L610.64 115.36L647.88 104.03L685.12 108.47L722.36 96.7L759.6 97.09M573.4 116.67L610.64 128.41L647.88 96.7L685.12 112.13L722.36 161.18L759.6 145.51M573.4 113.7L610.64 137.81L647.88 108.16L685.12 96.7L722.36 111.67L759.6 124.68M573.4 106.42L610.64 104.31L647.88 114.45L685.12 96.7L722.36 99.24L759.6 122.83M573.4 140.91L610.64 174.11L647.88 136.29L685.12 96.7L722.36 126.95L759.6 146.38M573.4 100.12L610.64 121.54L647.88 126.86L685.12 111.09L722.36 108.92L759.6 96.7M573.4 129.15L610.64 97.28L647.88 105.92L685.12 102.45L722.36 96.7L759.6 137.25M573.4 97.84L610.64 160.1L647.88 137.14L685.12 126.16L722.36 96.7L759.6 133M573.4 121.01L610.64 110.05L647.88 124.69L685.12 96.7L722.36 125.94L759.6 119.94M573.4 130.88L610.64 122.59L647.88 114.48L685.12 124.52L722.36 114.71L759.6 96.7M573.4 118.02L610.64 147.68L647.88 133.25L685.12 124.53L722.36 96.7L759.6 130.17M573.4 137.17L610.64 190.91L647.88 127.86L685.12 96.7L722.36 131.36L759.6 123.15M573.4 96.7L610.64 143.83L647.88 137.78L685.12 125.84L722.36 124.32L759.6 119.38M573.4 117.59L610.64 136.29L647.88 103.72L685.12 96.7L722.36 107.19L759.6 125.98M573.4 125.01L610.64 189.29L647.88 144.83L685.12 146.71L722.36 96.7L759.6 129.36M573.4 386.02L610.64 298.5L647.88 189.28L685.12 147.33L722.36 132.87L759.6 118.4M573.4 310.07L610.64 197.96L647.88 132.87L685.12 111.17L722.36 118.4L759.6 103.93M573.4 218.94L610.64 247.87L647.88 176.26L685.12 140.1L722.36 125.63L759.6 147.33M573.4 223.28L610.64 238.47L647.88 161.8L685.12 125.63L722.36 154.56L759.6 132.87M573.4 132.87L610.64 290.54L647.88 183.5L685.12 147.33L722.36 125.63L759.6 111.17M573.4 203.03L610.64 234.13L647.88 193.62L685.12 196.52L722.36 193.62L759.6 172.65M573.4 154.56L610.64 183.5L647.88 147.33L685.12 125.63L722.36 184.22L759.6 197.96M573.4 118.4L610.64 169.03L647.88 132.87L685.12 161.8L722.36 194.35L759.6 169.03" stroke="#4882F0" stroke-width="1.5" fill="none" stroke-linejoin="round" stroke-linecap="round"/>
<rect x="550.7" y="69.7" width="231" height="594.9" fill="none" stroke="#000" stroke-width="1.7"/>
<path d="M573.4 664.6V669.1M610.64 664.6V669.1M647.88 664.6V669.1M685.12 664.6V669.1M722.36 664.6V669.1M759.6 664.6V669.1" stroke="#111" stroke-width="1.7" fill="none"/>
<text class="b" x="573.4" y="680.2" font-size="11.7" fill="#222" color="#222" text-anchor="middle">E0</text>
<text class="b" x="610.64" y="680.2" font-size="11.7" fill="#222" color="#222" text-anchor="middle">E4</text>
<text class="b" x="647.88" y="680.2" font-size="11.7" fill="#222" color="#222" text-anchor="middle">E8</text>
<text class="b" x="685.12" y="680.2" font-size="11.7" fill="#222" color="#222" text-anchor="middle">E12</text>
<text class="b" x="722.36" y="680.2" font-size="11.7" fill="#222" color="#222" text-anchor="middle">E16</text>
<text class="b" x="759.6" y="680.2" font-size="11.7" fill="#222" color="#222" text-anchor="middle">E24</text>
<text class="b" x="67" y="101.5" font-size="11.7" fill="#222" color="#222" text-anchor="end">1.0</text>
<text class="b" x="67" y="246.16" font-size="11.7" fill="#222" color="#222" text-anchor="end">0.8</text>
<text class="b" x="67" y="390.82" font-size="11.7" fill="#222" color="#222" text-anchor="end">0.6</text>
<text class="b" x="67" y="535.48" font-size="11.7" fill="#222" color="#222" text-anchor="end">0.4</text>
<path d="M69.5 96.7H74.5M69.5 241.36H74.5M69.5 386.02H74.5M69.5 530.68H74.5" stroke="#111" stroke-width="1.7" fill="none"/>
<text class="b" x="429.1" y="696.8" font-size="14.75" fill="#000" color="#000" text-anchor="middle">Time after imbibition</text>
<text class="b" transform="translate(44.7 367.15) rotate(-90)" font-size="14.75" fill="#000" color="#000" text-anchor="middle">Normalised transcript abundance (AU)</text>
<text class="s" x="804.2" y="337.6" font-size="14.0" fill="#000" color="#000">cluster</text>
<path d="M805.7 356.6H823" stroke="#E84E49" stroke-width="1.6"/>
<text class="s" x="832.5" y="362.1" font-size="11.7" fill="#000" color="#000">Cluster_1</text>
<path d="M805.7 377.6H823" stroke="#55BC41" stroke-width="1.6"/>
<text class="s" x="832.5" y="382.1" font-size="11.7" fill="#000" color="#000">Cluster_2</text>
<path d="M805.7 398.8H823" stroke="#4882F0" stroke-width="1.6"/>
<text class="s" x="832.5" y="403.2" font-size="11.7" fill="#000" color="#000">Cluster_3</text>
<text x="866.2" y="28.6" font-size="30" font-weight="bold" fill="#000">B</text>
<text class="m" x="948.7" y="35.9" font-size="18" fill="#000" color="#000" textLength="598.8" lengthAdjust="spacingAndGlyphs">133 transcripts corresponding to 133 proteins down-accumulated in the embryo</text>
<rect x="947.4" y="47.1" width="231.4" height="22.6" fill="#fff" stroke="#000" stroke-width="1.7"/>
<rect x="950" y="49.7" width="226.2" height="17.4" fill="#D4D4D4"/>
<text class="s" x="1063.1" y="63.1" font-size="11.8" fill="#111" color="#111" text-anchor="middle">Cluster_4</text>
<path d="M950.4 168.1H1175.8M950.4 310.7H1175.8M950.4 453.3H1175.8M950.4 595.9H1175.8M950.4 96.8H1175.8M950.4 239.4H1175.8M950.4 382H1175.8M950.4 524.6H1175.8M970.4 72.7V661.6M1007.54 72.7V661.6M1044.68 72.7V661.6M1081.82 72.7V661.6M1118.96 72.7V661.6M1156.1 72.7V661.6" stroke="#E6E6E6" stroke-width="1.3" fill="none"/>
<path d="M970.4 96.8L1007.54 106.36L1044.68 256.72L1081.82 347.36L1118.96 408.36L1156.1 484.12M970.4 96.8L1007.54 146.54L1044.68 295.54L1081.82 361.71L1118.96 427.41L1156.1 488.24M970.4 96.8L1007.54 171.57L1044.68 232.79L1081.82 249.33L1118.96 289.07L1156.1 310.8M970.4 96.8L1007.54 152.96L1044.68 292.78L1081.82 363.54L1118.96 441.75L1156.1 527.77M970.4 96.8L1007.54 177.02L1044.68 206.63L1081.82 246.39L1118.96 248.87L1156.1 279.91M970.4 117.36L1007.54 96.8L1044.68 280.23L1081.82 338.34L1118.96 370.96L1156.1 432.11M970.4 96.8L1007.54 122.79L1044.68 222.19L1081.82 241.67L1118.96 317.05L1156.1 370.02M970.4 96.8L1007.54 122.41L1044.68 182.41L1081.82 256.69L1118.96 300.96L1156.1 368.17M970.4 96.8L1007.54 102.51L1044.68 222.81L1081.82 327.31L1118.96 427.12L1156.1 523.6M970.4 113.04L1007.54 96.8L1044.68 248.03L1081.82 349.51L1118.96 465.18L1156.1 540.61M970.4 96.8L1007.54 168.66L1044.68 204.9L1081.82 229.78L1118.96 246.24L1156.1 270.73M970.4 96.8L1007.54 132.17L1044.68 268.1L1081.82 361.63L1118.96 442.18L1156.1 513.24M970.4 115.18L1007.54 96.8L1044.68 205.93L1081.82 259.3L1118.96 292.6L1156.1 324.01M970.4 96.8L1007.54 274.38L1044.68 303.24L1081.82 320.69L1118.96 341.06L1156.1 355.26M970.4 96.8L1007.54 134.74L1044.68 198.67L1081.82 237.18L1118.96 279.19L1156.1 326.92M970.4 96.8L1007.54 173.83L1044.68 226.23L1081.82 254.62L1118.96 268.85L1156.1 293.15M970.4 96.8L1007.54 177.41L1044.68 306.17L1081.82 388.93L1118.96 429.77L1156.1 485.46M970.4 96.8L1007.54 170.1L1044.68 234.15L1081.82 275.59L1118.96 319.38L1156.1 361.94M970.4 96.8L1007.54 182.5L1044.68 210.58L1081.82 252.71L1118.96 261.91L1156.1 290.09M970.4 96.8L1007.54 121.67L1044.68 186.82L1081.82 214.57L1118.96 283.2L1156.1 352.59M970.4 96.8L1007.54 100.93L1044.68 198.15L1081.82 271.24L1118.96 311.36L1156.1 357.74M970.4 102.57L1007.54 96.8L1044.68 252.57L1081.82 286.42L1118.96 348.19L1156.1 386.72M970.4 96.8L1007.54 171.87L1044.68 276.75L1081.82 352.39L1118.96 429.41L1156.1 519.24M970.4 96.8L1007.54 168.5L1044.68 196.46L1081.82 236.81L1118.96 266.21L1156.1 292.43M970.4 96.8L1007.54 176.95L1044.68 285.29L1081.82 317.69L1118.96 373.38L1156.1 410.22M970.4 96.8L1007.54 104.69L1044.68 178.84L1081.82 226.57L1118.96 278.76L1156.1 311.2M970.4 96.8L1007.54 186.36L1044.68 296.01L1081.82 346L1118.96 383.98L1156.1 410.86M970.4 96.8L1007.54 103L1044.68 194.58L1081.82 250.64L1118.96 272.75L1156.1 326.1M970.4 96.8L1007.54 112.31L1044.68 192.04L1081.82 237.53L1118.96 290.6L1156.1 319.74M970.4 96.8L1007.54 97.32L1044.68 167.57L1081.82 251.13L1118.96 291.99L1156.1 345.42M970.4 96.8L1007.54 119.55L1044.68 266.83L1081.82 392.71L1118.96 462.21L1156.1 531M970.4 96.8L1007.54 181.41L1044.68 260.08L1081.82 326.81L1118.96 375L1156.1 461.54M970.4 96.8L1007.54 137.78L1044.68 210.5L1081.82 251.64L1118.96 315.82L1156.1 373.92M970.4 96.8L1007.54 113.27L1044.68 183.93L1081.82 242.42L1118.96 281.47L1156.1 316.62M970.4 101.27L1007.54 96.8L1044.68 299.75L1081.82 391.76L1118.96 460.52L1156.1 525.8M970.4 96.8L1007.54 171.05L1044.68 202.9L1081.82 233.36L1118.96 265.37L1156.1 310.55M970.4 96.8L1007.54 183.74L1044.68 222.58L1081.82 273.86L1118.96 339.87L1156.1 385.36M970.4 96.8L1007.54 124.87L1044.68 202.71L1081.82 249.61L1118.96 284.67L1156.1 310.12M970.4 96.8L1007.54 118.15L1044.68 203.9L1081.82 307.88L1118.96 393.85L1156.1 462.59M970.4 96.8L1007.54 252.51L1044.68 317.26L1081.82 379.91L1118.96 435.5L1156.1 470.17M970.4 96.8L1007.54 154.57L1044.68 183.16L1081.82 239.15L1118.96 246.26L1156.1 275.09M970.4 96.8L1007.54 120.7L1044.68 225.78L1081.82 310L1118.96 433.03L1156.1 526.42M970.4 96.8L1007.54 124.53L1044.68 270.8L1081.82 368.7L1118.96 444.51L1156.1 483.44M970.4 96.8L1007.54 111.4L1044.68 249.35L1081.82 308.02L1118.96 352.52L1156.1 399.83M970.4 96.8L1007.54 123.59L1044.68 165.02L1081.82 210.63L1118.96 214.35L1156.1 262.97M970.4 96.8L1007.54 161.1L1044.68 238.89L1081.82 294.83L1118.96 341.21L1156.1 389.43M970.4 96.8L1007.54 103.08L1044.68 181.89L1081.82 250.16L1118.96 342.33L1156.1 411.58M970.4 96.8L1007.54 301.91L1044.68 381L1081.82 390.87L1118.96 420.73L1156.1 440.05M970.4 96.8L1007.54 173.12L1044.68 228.54L1081.82 245.52L1118.96 270.78L1156.1 305.05M970.4 96.8L1007.54 182.19L1044.68 226.47L1081.82 271.33L1118.96 328.35L1156.1 346.6M970.4 96.8L1007.54 154.2L1044.68 304.01L1081.82 394.62L1118.96 456.43L1156.1 521.79M970.4 96.8L1007.54 176.32L1044.68 291.58L1081.82 352.29L1118.96 430.33L1156.1 478.38M970.4 96.8L1007.54 179.44L1044.68 219.5L1081.82 255.85L1118.96 285.33L1156.1 309.27M970.4 96.8L1007.54 104.36L1044.68 224.9L1081.82 314.03L1118.96 382.21L1156.1 449.91M970.4 96.8L1007.54 103.41L1044.68 201.99L1081.82 302.36L1118.96 380.43L1156.1 494.41M970.4 109.67L1007.54 96.8L1044.68 291.69L1081.82 369.21L1118.96 468.35L1156.1 552.86M970.4 110.84L1007.54 96.8L1044.68 232.95L1081.82 337.32L1118.96 430.82L1156.1 510.77M970.4 96.8L1007.54 166.69L1044.68 197.65L1081.82 234.65L1118.96 263.7L1156.1 268.13M970.4 96.8L1007.54 302.64L1044.68 334.96L1081.82 349.1L1118.96 404.22L1156.1 425.25M970.4 96.8L1007.54 154.28L1044.68 247.47L1081.82 322.17L1118.96 394.89L1156.1 459.22M970.4 310.7L1007.54 96.8L1044.68 196.62L1081.82 282.18L1118.96 339.22L1156.1 382M970.4 96.8L1007.54 317.83L1044.68 538.15L1081.82 565.95L1118.96 570.94L1156.1 570.94M970.4 96.8L1007.54 282.18L1044.68 517.47L1081.82 567.38L1118.96 574.51L1156.1 567.38M970.4 96.8L1007.54 146.71L1044.68 310.7L1081.82 453.3L1118.96 588.77L1156.1 638.68M970.4 96.8L1007.54 168.1L1044.68 324.96L1081.82 488.95L1118.96 524.6L1156.1 595.9M970.4 96.8L1007.54 111.06L1044.68 146.71L1081.82 203.75L1118.96 232.27L1156.1 260.79M970.4 96.8L1007.54 96.8L1044.68 153.84L1081.82 210.88L1118.96 246.53L1156.1 289.31" stroke="#E84E49" stroke-width="1.5" fill="none" stroke-linejoin="round" stroke-linecap="round"/>
<rect x="947.4" y="69.7" width="231.4" height="594.9" fill="none" stroke="#000" stroke-width="1.7"/>
<path d="M970.4 664.6V669.1M1007.54 664.6V669.1M1044.68 664.6V669.1M1081.82 664.6V669.1M1118.96 664.6V669.1M1156.1 664.6V669.1" stroke="#111" stroke-width="1.7" fill="none"/>
<text class="b" x="970.4" y="680.2" font-size="11.7" fill="#222" color="#222" text-anchor="middle">E0</text>
<text class="b" x="1007.54" y="680.2" font-size="11.7" fill="#222" color="#222" text-anchor="middle">E4</text>
<text class="b" x="1044.68" y="680.2" font-size="11.7" fill="#222" color="#222" text-anchor="middle">E8</text>
<text class="b" x="1081.82" y="680.2" font-size="11.7" fill="#222" color="#222" text-anchor="middle">E12</text>
<text class="b" x="1118.96" y="680.2" font-size="11.7" fill="#222" color="#222" text-anchor="middle">E16</text>
<text class="b" x="1156.1" y="680.2" font-size="11.7" fill="#222" color="#222" text-anchor="middle">E24</text>
<rect x="1186.6" y="47.1" width="231" height="22.6" fill="#fff" stroke="#000" stroke-width="1.7"/>
<rect x="1189.2" y="49.7" width="225.8" height="17.4" fill="#D4D4D4"/>
<text class="s" x="1302.1" y="63.1" font-size="11.8" fill="#111" color="#111" text-anchor="middle">Cluster_5</text>
<path d="M1189.6 168.1H1414.6M1189.6 310.7H1414.6M1189.6 453.3H1414.6M1189.6 595.9H1414.6M1189.6 96.8H1414.6M1189.6 239.4H1414.6M1189.6 382H1414.6M1189.6 524.6H1414.6M1208.8 72.7V661.6M1246.1 72.7V661.6M1283.4 72.7V661.6M1320.7 72.7V661.6M1358 72.7V661.6M1395.3 72.7V661.6" stroke="#E6E6E6" stroke-width="1.3" fill="none"/>
<path d="M1208.8 373.09L1246.1 379.86L1283.4 404.82L1320.7 323.53L1358 221.58L1395.3 96.8M1208.8 404.82L1246.1 487.81L1283.4 348.49L1320.7 231.56L1358 144.57L1395.3 96.8M1208.8 468.27L1246.1 397.69L1283.4 252.23L1320.7 168.1L1358 127.46L1395.3 96.8M1208.8 478.97L1246.1 370.59L1283.4 170.95L1320.7 96.8L1358 120.33L1395.3 135.3M1208.8 486.81L1246.1 484.67L1283.4 483.96L1320.7 442.6L1358 377.72L1395.3 96.8" stroke="#55BC41" stroke-width="1.5" fill="none" stroke-linejoin="round" stroke-linecap="round"/>
<rect x="1186.6" y="69.7" width="231" height="594.9" fill="none" stroke="#000" stroke-width="1.7"/>
<path d="M1208.8 664.6V669.1M1246.1 664.6V669.1M1283.4 664.6V669.1M1320.7 664.6V669.1M1358 664.6V669.1M1395.3 664.6V669.1" stroke="#111" stroke-width="1.7" fill="none"/>
<text class="b" x="1208.8" y="680.2" font-size="11.7" fill="#222" color="#222" text-anchor="middle">E0</text>
<text class="b" x="1246.1" y="680.2" font-size="11.7" fill="#222" color="#222" text-anchor="middle">E4</text>
<text class="b" x="1283.4" y="680.2" font-size="11.7" fill="#222" color="#222" text-anchor="middle">E8</text>
<text class="b" x="1320.7" y="680.2" font-size="11.7" fill="#222" color="#222" text-anchor="middle">E12</text>
<text class="b" x="1358" y="680.2" font-size="11.7" fill="#222" color="#222" text-anchor="middle">E16</text>
<text class="b" x="1395.3" y="680.2" font-size="11.7" fill="#222" color="#222" text-anchor="middle">E24</text>
<rect x="1425.8" y="47.1" width="229.6" height="22.6" fill="#fff" stroke="#000" stroke-width="1.7"/>
<rect x="1428.4" y="49.7" width="224.4" height="17.4" fill="#D4D4D4"/>
<text class="s" x="1540.6" y="63.1" font-size="11.8" fill="#111" color="#111" text-anchor="middle">Cluster_6</text>
<path d="M1428.8 168.1H1652.4M1428.8 310.7H1652.4M1428.8 453.3H1652.4M1428.8 595.9H1652.4M1428.8 96.8H1652.4M1428.8 239.4H1652.4M1428.8 382H1652.4M1428.8 524.6H1652.4M1445.7 72.7V661.6M1483.22 72.7V661.6M1520.74 72.7V661.6M1558.26 72.7V661.6M1595.78 72.7V661.6M1633.3 72.7V661.6" stroke="#E6E6E6" stroke-width="1.3" fill="none"/>
<path d="M1445.7 96.8L1483.22 168.22L1520.74 198.92L1558.26 180.66L1595.78 129.53L1633.3 144.15M1445.7 146.47L1483.22 246.24L1520.74 189.26L1558.26 135.59L1595.78 96.8L1633.3 97.56M1445.7 142.46L1483.22 156.43L1520.74 150.56L1558.26 97.34L1595.78 127.05L1633.3 96.8M1445.7 146.74L1483.22 154.14L1520.74 153.39L1558.26 152.55L1595.78 126.51L1633.3 96.8M1445.7 96.8L1483.22 195.88L1520.74 98.98L1558.26 159.09L1595.78 171.41L1633.3 110.55M1445.7 125.03L1483.22 96.8L1520.74 134.98L1558.26 138.11L1595.78 118.53L1633.3 101.24M1445.7 96.8L1483.22 112.46L1520.74 127.31L1558.26 137.32L1595.78 110.48L1633.3 109.62M1445.7 105.35L1483.22 206.08L1520.74 151.52L1558.26 123.6L1595.78 117.92L1633.3 96.8M1445.7 113.79L1483.22 140.69L1520.74 96.8L1558.26 122.72L1595.78 213.95L1633.3 253.85M1445.7 96.8L1483.22 115.8L1520.74 127.29L1558.26 112.62L1595.78 178.01L1633.3 126.84M1445.7 96.8L1483.22 198.17L1520.74 198.72L1558.26 162.1L1595.78 135.35L1633.3 160.31M1445.7 133.72L1483.22 157.01L1520.74 96.8L1558.26 119.6L1595.78 135.06L1633.3 135.23M1445.7 127.44L1483.22 194.47L1520.74 96.8L1558.26 134.17L1595.78 137.54L1633.3 159.34M1445.7 96.8L1483.22 192.72L1520.74 142.41L1558.26 138.82L1595.78 120.33L1633.3 134.92M1445.7 96.8L1483.22 106.01L1520.74 147.33L1558.26 140.03L1595.78 133.24L1633.3 123.69M1445.7 131.19L1483.22 98.72L1520.74 96.8L1558.26 105.22L1595.78 100.88L1633.3 99.76M1445.7 133.8L1483.22 208.3L1520.74 96.8L1558.26 160.15L1595.78 143.69L1633.3 102.75M1445.7 156.85L1483.22 177.4L1520.74 169.45L1558.26 107.35L1595.78 96.8L1633.3 113.86M1445.7 140.93L1483.22 208.59L1520.74 147.98L1558.26 122.47L1595.78 113.72L1633.3 96.8M1445.7 96.8L1483.22 183.02L1520.74 131.96L1558.26 107.24L1595.78 171.3L1633.3 195.79M1445.7 219.14L1483.22 204.47L1520.74 205.19L1558.26 164.6L1595.78 148.65L1633.3 96.8M1445.7 172.38L1483.22 178.41L1520.74 149.77L1558.26 96.8L1595.78 100.1L1633.3 150.37M1445.7 141.34L1483.22 176.64L1520.74 153.79L1558.26 128.28L1595.78 142.26L1633.3 96.8M1445.7 117.18L1483.22 164.62L1520.74 190.14L1558.26 189.82L1595.78 140.54L1633.3 96.8M1445.7 96.8L1483.22 155.68L1520.74 180.54L1558.26 146.99L1595.78 178.39L1633.3 126.51M1445.7 111.76L1483.22 143.27L1520.74 97L1558.26 96.8L1595.78 98.75L1633.3 100.28M1445.7 96.8L1483.22 138.88L1520.74 111.75L1558.26 108.84L1595.78 115.42L1633.3 115.84M1445.7 96.8L1483.22 178.7L1520.74 160.62L1558.26 112.66L1595.78 120.83L1633.3 122.35M1445.7 119.86L1483.22 117.75L1520.74 113.27L1558.26 129.06L1595.78 96.8L1633.3 110.62M1445.7 137.54L1483.22 187.95L1520.74 153.33L1558.26 96.8L1595.78 141.01L1633.3 100.11M1445.7 96.8L1483.22 200.54L1520.74 155.98L1558.26 152.87L1595.78 200.34L1633.3 175.18M1445.7 141.66L1483.22 193.76L1520.74 188.26L1558.26 159.23L1595.78 145.03L1633.3 96.8M1445.7 111.72L1483.22 222.98L1520.74 174.9L1558.26 96.8L1595.78 152.9L1633.3 189.72M1445.7 153.16L1483.22 191.51L1520.74 206.49L1558.26 158.42L1595.78 137.96L1633.3 96.8M1445.7 96.8L1483.22 164.03L1520.74 177.25L1558.26 121.11L1595.78 136.22L1633.3 110.27M1445.7 145.48L1483.22 146.46L1520.74 187.41L1558.26 169.58L1595.78 145.63L1633.3 96.8M1445.7 96.8L1483.22 139.6L1520.74 159.42L1558.26 170.31L1595.78 201.14L1633.3 142.53M1445.7 96.8L1483.22 142.02L1520.74 124.74L1558.26 121.12L1595.78 122.3L1633.3 109.55M1445.7 96.8L1483.22 142.24L1520.74 151.4L1558.26 162.87L1595.78 183.11L1633.3 220.4M1445.7 96.8L1483.22 141.64L1520.74 106.7L1558.26 119.55L1595.78 169.56L1633.3 191.8M1445.7 129.33L1483.22 128.41L1520.74 163.18L1558.26 120.91L1595.78 104.09L1633.3 96.8M1445.7 177.58L1483.22 193.96L1520.74 163.51L1558.26 120.97L1595.78 96.8L1633.3 135.41M1445.7 136.05L1483.22 136.73L1520.74 131.82L1558.26 96.8L1595.78 102.57L1633.3 110.08M1445.7 168.5L1483.22 211.71L1520.74 175.39L1558.26 177.15L1595.78 132.39L1633.3 96.8M1445.7 133.25L1483.22 194.14L1520.74 215.29L1558.26 161.29L1595.78 96.8L1633.3 108.41M1445.7 110.46L1483.22 184.38L1520.74 229.23L1558.26 194.55L1595.78 127.3L1633.3 96.8M1445.7 96.8L1483.22 162.43L1520.74 171.11L1558.26 175.33L1595.78 151.95L1633.3 112.68M1445.7 96.8L1483.22 108.06L1520.74 178.88L1558.26 195.89L1595.78 160.78L1633.3 125.22M1445.7 147.35L1483.22 133.87L1520.74 147.11L1558.26 166.32L1595.78 129.35L1633.3 96.8M1445.7 139.84L1483.22 203.5L1520.74 124.74L1558.26 144.44L1595.78 107.59L1633.3 96.8M1445.7 96.8L1483.22 132.4L1520.74 178.25L1558.26 139.49L1595.78 228.77L1633.3 178.34M1445.7 96.8L1483.22 192.04L1520.74 121.4L1558.26 143.3L1595.78 176.22L1633.3 172.22M1445.7 124.83L1483.22 196.8L1520.74 101.93L1558.26 96.8L1595.78 134.27L1633.3 104.39M1445.7 103.42L1483.22 156.59L1520.74 209.68L1558.26 168.34L1595.78 138.58L1633.3 96.8M1445.7 96.8L1483.22 101.12L1520.74 159.93L1558.26 136.49L1595.78 111.31L1633.3 114.9M1445.7 113.34L1483.22 170.94L1520.74 96.8L1558.26 157.68L1595.78 170.83L1633.3 160.64M1445.7 96.8L1483.22 152.08L1520.74 160.99L1558.26 126.8L1595.78 117.36L1633.3 113.82M1445.7 134.9L1483.22 199.26L1520.74 172.18L1558.26 164.17L1595.78 150.13L1633.3 96.8M1445.7 96.8L1483.22 113.64L1520.74 161.13L1558.26 174.13L1595.78 142.61L1633.3 139.8M1445.7 152.4L1483.22 213.08L1520.74 136.57L1558.26 118.91L1595.78 114.7L1633.3 96.8M1445.7 96.8L1483.22 129.94L1520.74 118.05L1558.26 166.69L1595.78 189L1633.3 147.2M1445.7 96.8L1483.22 187.03L1520.74 185.05L1558.26 158.73L1595.78 126.99L1633.3 137.28M1445.7 96.8L1483.22 134.72L1520.74 102.13L1558.26 145.61L1595.78 106.47L1633.3 136.91M1445.7 112.4L1483.22 171.48L1520.74 116.02L1558.26 104.39L1595.78 105.86L1633.3 96.8M1445.7 104.24L1483.22 178.67L1520.74 175.96L1558.26 119.35L1595.78 124.85L1633.3 96.8M1445.7 158L1483.22 189.36L1520.74 176.12L1558.26 164.9L1595.78 96.8L1633.3 105.86M1445.7 97.5L1483.22 106.8L1520.74 118.58L1558.26 109.78L1595.78 122.46L1633.3 96.8M1445.7 96.8L1483.22 148.17L1520.74 120.58L1558.26 132.11L1595.78 133.39L1633.3 123.44M1445.7 112.52L1483.22 193.48L1520.74 148.37L1558.26 104.76L1595.78 96.8L1633.3 108.43M1445.7 96.8L1483.22 159.79L1520.74 123.97L1558.26 103.03L1595.78 114.2L1633.3 131.01M1445.7 96.8L1483.22 147.15L1520.74 168.61L1558.26 225.36L1595.78 194.73L1633.3 136.92M1445.7 146.78L1483.22 209.08L1520.74 182.81L1558.26 131.95L1595.78 101.61L1633.3 96.8M1445.7 96.8L1483.22 198.37L1520.74 126.07L1558.26 179.74L1595.78 135.78L1633.3 153.31M1445.7 139.05L1483.22 183.92L1520.74 171.35L1558.26 146.1L1595.78 109.74L1633.3 96.8M1445.7 96.8L1483.22 215.52L1520.74 260.32L1558.26 238.46L1595.78 202.34L1633.3 176.84M1445.7 157.01L1483.22 128.49L1520.74 105.6L1558.26 122.4L1595.78 96.8L1633.3 161.66M1445.7 110.42L1483.22 155.29L1520.74 116.49L1558.26 155.79L1595.78 122.29L1633.3 96.8M1445.7 125.67L1483.22 152.62L1520.74 121.58L1558.26 166.15L1595.78 96.8L1633.3 148.39M1445.7 98.15L1483.22 197.79L1520.74 143.21L1558.26 126.08L1595.78 117.86L1633.3 96.8M1445.7 134.3L1483.22 160.76L1520.74 96.8L1558.26 132.53L1595.78 132.36L1633.3 142.63M1445.7 246.53L1483.22 352.77L1520.74 246.53L1558.26 203.75L1595.78 182.36L1633.3 153.84M1445.7 279.33L1483.22 279.33L1520.74 239.4L1558.26 196.62L1595.78 168.1L1633.3 132.45M1445.7 203.75L1483.22 275.05L1520.74 264.36L1558.26 218.01L1595.78 239.4L1633.3 279.33M1445.7 239.4L1483.22 253.66L1520.74 265.07L1558.26 237.97L1595.78 242.96L1633.3 239.4M1445.7 132.45L1483.22 153.84L1520.74 196.62L1558.26 210.88L1595.78 232.27L1633.3 267.92M1445.7 96.8L1483.22 146.71L1520.74 132.45L1558.26 139.58L1595.78 178.79L1633.3 239.4M1445.7 118.19L1483.22 132.45L1520.74 96.8L1558.26 146.71L1595.78 185.93L1633.3 253.66M1445.7 96.8L1483.22 168.1L1520.74 125.32L1558.26 132.45L1595.78 175.23L1633.3 228.71M1445.7 125.32L1483.22 153.84L1520.74 111.06L1558.26 96.8L1595.78 182.36L1633.3 246.53M1445.7 225.14L1483.22 210.88L1520.74 196.62L1558.26 182.36L1595.78 189.49L1633.3 196.62M1445.7 196.62L1483.22 239.4L1520.74 210.88L1558.26 218.01L1595.78 203.75L1633.3 210.88" stroke="#4882F0" stroke-width="1.5" fill="none" stroke-linejoin="round" stroke-linecap="round"/>
<rect x="1425.8" y="69.7" width="229.6" height="594.9" fill="none" stroke="#000" stroke-width="1.7"/>
<path d="M1445.7 664.6V669.1M1483.22 664.6V669.1M1520.74 664.6V669.1M1558.26 664.6V669.1M1595.78 664.6V669.1M1633.3 664.6V669.1" stroke="#111" stroke-width="1.7" fill="none"/>
<text class="b" x="1445.7" y="680.2" font-size="11.7" fill="#222" color="#222" text-anchor="middle">E0</text>
<text class="b" x="1483.22" y="680.2" font-size="11.7" fill="#222" color="#222" text-anchor="middle">E4</text>
<text class="b" x="1520.74" y="680.2" font-size="11.7" fill="#222" color="#222" text-anchor="middle">E8</text>
<text class="b" x="1558.26" y="680.2" font-size="11.7" fill="#222" color="#222" text-anchor="middle">E12</text>
<text class="b" x="1595.78" y="680.2" font-size="11.7" fill="#222" color="#222" text-anchor="middle">E16</text>
<text class="b" x="1633.3" y="680.2" font-size="11.7" fill="#222" color="#222" text-anchor="middle">E24</text>
<text class="b" x="939.9" y="101.6" font-size="11.7" fill="#222" color="#222" text-anchor="end">1.0</text>
<text class="b" x="939.9" y="244.2" font-size="11.7" fill="#222" color="#222" text-anchor="end">0.8</text>
<text class="b" x="939.9" y="386.8" font-size="11.7" fill="#222" color="#222" text-anchor="end">0.6</text>
<text class="b" x="939.9" y="529.4" font-size="11.7" fill="#222" color="#222" text-anchor="end">0.4</text>
<path d="M942.4 96.8H947.4M942.4 239.4H947.4M942.4 382H947.4M942.4 524.6H947.4" stroke="#111" stroke-width="1.7" fill="none"/>
<text class="b" x="1302.1" y="696.8" font-size="14.75" fill="#000" color="#000" text-anchor="middle">Time after imbibition</text>
<text class="b" transform="translate(917.6 367.15) rotate(-90)" font-size="14.75" fill="#000" color="#000" text-anchor="middle">Normalised transcript abundance (AU)</text>
<text class="s" x="1678.1" y="337.6" font-size="14.0" fill="#000" color="#000">cluster</text>
<path d="M1678.8 356.6H1697.9" stroke="#E84E49" stroke-width="1.6"/>
<text class="s" x="1706.4" y="362.1" font-size="11.7" fill="#000" color="#000">Cluster_4</text>
<path d="M1678.8 377.6H1697.9" stroke="#55BC41" stroke-width="1.6"/>
<text class="s" x="1706.4" y="382.1" font-size="11.7" fill="#000" color="#000">Cluster_5</text>
<path d="M1678.8 398.8H1697.9" stroke="#4882F0" stroke-width="1.6"/>
<text class="s" x="1706.4" y="403.2" font-size="11.7" fill="#000" color="#000">Cluster_6</text>
<text x="17.1" y="728" font-size="30" font-weight="bold" fill="#000">C</text>
<text class="m" x="73.1" y="764.3" font-size="18" fill="#000" color="#000" textLength="609.8" lengthAdjust="spacingAndGlyphs">96 transcripts corresponding to 96 proteins down-accumulated in the endosperm</text>
<rect x="74.9" y="774.4" width="229.4" height="23.8" fill="#fff" stroke="#000" stroke-width="1.7"/>
<rect x="77.5" y="777" width="224.2" height="18.6" fill="#D4D4D4"/>
<text class="s" x="189.6" y="790.4" font-size="11.8" fill="#111" color="#111" text-anchor="middle">Cluster_10</text>
<path d="M77.9 881.35H301.3M77.9 993.45H301.3M77.9 1105.55H301.3M77.9 1217.65H301.3M77.9 1329.75H301.3M77.9 825.3H301.3M77.9 937.4H301.3M77.9 1049.5H301.3M77.9 1161.6H301.3M77.9 1273.7H301.3M77.9 1385.8H301.3M95.4 801.2V1390.3M132.62 801.2V1390.3M169.84 801.2V1390.3M207.06 801.2V1390.3M244.28 801.2V1390.3M281.5 801.2V1390.3" stroke="#E6E6E6" stroke-width="1.3" fill="none"/>
<path d="M95.4 922.83L132.62 948.61L169.84 893.38L207.06 825.3L244.28 856.74L281.5 825.3M95.4 949.73L132.62 982.24L169.84 862.19L207.06 825.3L244.28 874.94L281.5 825.3M95.4 954.21L132.62 976.63L169.84 915.67L207.06 841.93L244.28 885.04L281.5 825.3M95.4 959.82L132.62 966.55L169.84 908.26L207.06 871.64L244.28 919.23L281.5 851.7M95.4 963.18L132.62 959.82L169.84 862.67L207.06 825.3L244.28 825.3L281.5 854.67M95.4 965.42L132.62 988.97L169.84 885.97L207.06 825.3L244.28 841.92L281.5 832.26M95.4 971.03L132.62 1015.87L169.84 957.57L207.06 825.3L244.28 862.18L281.5 872.51M95.4 974.39L132.62 999.06L169.84 852.94L207.06 825.3L244.28 853.78L281.5 834.81M95.4 976.63L132.62 988.97L169.84 950.22L207.06 854.8L244.28 877.51L281.5 867.18M95.4 982.24L132.62 1018.11L169.84 942.54L207.06 876.02L244.28 874.6L281.5 825.3M95.4 987.85L132.62 1027.08L169.84 920.73L207.06 876.81L244.28 913.55L281.5 833.46M95.4 993.45L132.62 1032.68L169.84 979.6L207.06 825.3L244.28 825.3L281.5 825.3M95.4 999.06L132.62 1029.32L169.84 969.25L207.06 922.29L244.28 858.12L281.5 825.3M95.4 1006.9L132.62 1052.86L169.84 979.09L207.06 825.3L244.28 876.6L281.5 853.52M95.4 1009.14L132.62 1049.5L169.84 866.35L207.06 829.6L244.28 869.44L281.5 853.33M95.4 1019.23L132.62 1036.05L169.84 983.42L207.06 850.79L244.28 904.35L281.5 860.09M95.4 1027.08L132.62 1066.31L169.84 964.49L207.06 876.07L244.28 926.19L281.5 838.57M95.4 1045.02L132.62 1077.52L169.84 875.7L207.06 858.62L244.28 890.6L281.5 825.3M95.4 1046.14L132.62 1078.65L169.84 928.05L207.06 847.94L244.28 901.14L281.5 841.01M95.4 1095.46L132.62 1103.31L169.84 869.88L207.06 825.3L244.28 866.42L281.5 855.2M95.4 1115.64L132.62 1172.81L169.84 1042.1L207.06 908.98L244.28 873.99L281.5 825.3M95.4 1129.09L132.62 1129.09L169.84 1084.84L207.06 825.3L244.28 825.3L281.5 847.57M95.4 1152.63L132.62 1181.78L169.84 1132.08L207.06 825.3L244.28 862.67L281.5 864.69M95.4 1187.38L132.62 1229.98L169.84 1090.1L207.06 825.3L244.28 832.3L281.5 831.64M95.4 832.03L132.62 825.3L169.84 881.35L207.06 890.32L244.28 923.95L281.5 938.52M95.4 1049.5L132.62 971.03L169.84 937.4L207.06 825.3L244.28 847.72L281.5 909.37M95.4 1161.6L132.62 1229.98L169.84 1155.99L207.06 974.39L244.28 892.56L281.5 825.3" stroke="#E84E49" stroke-width="1.5" fill="none" stroke-linejoin="round" stroke-linecap="round"/>
<rect x="74.9" y="798.2" width="229.4" height="595.1" fill="none" stroke="#000" stroke-width="1.7"/>
<path d="M95.4 1393.3V1397.8M132.62 1393.3V1397.8M169.84 1393.3V1397.8M207.06 1393.3V1397.8M244.28 1393.3V1397.8M281.5 1393.3V1397.8" stroke="#111" stroke-width="1.7" fill="none"/>
<text class="b" x="95.4" y="1407.7" font-size="11.7" fill="#222" color="#222" text-anchor="middle">A0</text>
<text class="b" x="132.62" y="1407.7" font-size="11.7" fill="#222" color="#222" text-anchor="middle">A4</text>
<text class="b" x="169.84" y="1407.7" font-size="11.7" fill="#222" color="#222" text-anchor="middle">A8</text>
<text class="b" x="207.06" y="1407.7" font-size="11.7" fill="#222" color="#222" text-anchor="middle">A12</text>
<text class="b" x="244.28" y="1407.7" font-size="11.7" fill="#222" color="#222" text-anchor="middle">A16</text>
<text class="b" x="281.5" y="1407.7" font-size="11.7" fill="#222" color="#222" text-anchor="middle">A24</text>
<rect x="311.8" y="774.4" width="229.6" height="23.8" fill="#fff" stroke="#000" stroke-width="1.7"/>
<rect x="314.4" y="777" width="224.4" height="18.6" fill="#D4D4D4"/>
<text class="s" x="426.6" y="790.4" font-size="11.8" fill="#111" color="#111" text-anchor="middle">Cluster_11</text>
<path d="M314.8 881.35H538.4M314.8 993.45H538.4M314.8 1105.55H538.4M314.8 1217.65H538.4M314.8 1329.75H538.4M314.8 825.3H538.4M314.8 937.4H538.4M314.8 1049.5H538.4M314.8 1161.6H538.4M314.8 1273.7H538.4M314.8 1385.8H538.4M332.7 801.2V1390.3M370.04 801.2V1390.3M407.38 801.2V1390.3M444.72 801.2V1390.3M482.06 801.2V1390.3M519.4 801.2V1390.3" stroke="#E6E6E6" stroke-width="1.3" fill="none"/>
<path d="M332.7 898.79L370.04 905.51L407.38 825.3L444.72 843.81L482.06 837.97L519.4 898.36M332.7 865.42L370.04 868.35L407.38 940.76L444.72 933.41L482.06 850.44L519.4 825.3M332.7 825.3L370.04 838.39L407.38 850.48L444.72 892.48L482.06 847.45L519.4 871M332.7 873.45L370.04 847.34L407.38 891.5L444.72 825.3L482.06 881.95L519.4 848.52M332.7 887.19L370.04 878.92L407.38 940.76L444.72 940.76L482.06 877.56L519.4 825.3M332.7 835.35L370.04 827.41L407.38 825.3L444.72 860.16L482.06 827.62L519.4 850.43M332.7 825.3L370.04 866.29L407.38 940.76L444.72 940.76L482.06 835.85L519.4 852.38M332.7 825.3L370.04 856.53L407.38 844.78L444.72 853.26L482.06 933.7L519.4 828.59M332.7 839.88L370.04 892.41L407.38 871.94L444.72 861.13L482.06 880.1L519.4 825.3M332.7 859.21L370.04 885.69L407.38 875.08L444.72 865.69L482.06 825.3L519.4 853.53M332.7 875.22L370.04 841.14L407.38 848.3L444.72 940.76L482.06 869.23L519.4 825.3M332.7 825.3L370.04 882.95L407.38 853.26L444.72 881.14L482.06 851.44L519.4 841.11M332.7 839.36L370.04 853.31L407.38 850.75L444.72 917.79L482.06 825.3L519.4 867.7M332.7 836.87L370.04 862.67L407.38 940.76L444.72 844.36L482.06 825.3L519.4 860.73M332.7 825.3L370.04 940.76L407.38 827.69L444.72 881.14L482.06 888.38L519.4 831.11M332.7 837.14L370.04 940.76L407.38 861.4L444.72 940.76L482.06 825.3L519.4 859.88M332.7 840.67L370.04 825.3L407.38 878.17L444.72 877.99L482.06 851.74L519.4 851.49M332.7 892.38L370.04 850.11L407.38 826.56L444.72 825.3L482.06 841.97L519.4 866.81M332.7 827.5L370.04 930.76L407.38 825.3L444.72 842.49L482.06 877.01L519.4 836.06M332.7 880.27L370.04 844.84L407.38 827.62L444.72 896.89L482.06 829.65L519.4 825.3M332.7 877.15L370.04 828.34L407.38 825.3L444.72 915.16L482.06 883.16L519.4 880.67M332.7 825.3L370.04 940.76L407.38 921.17L444.72 853.53L482.06 938.14L519.4 844.93M332.7 913.03L370.04 919.83L407.38 886.5L444.72 894.89L482.06 837.26L519.4 825.3M332.7 940.76L370.04 859.9L407.38 825.3L444.72 883.35L482.06 850.57L519.4 917.41M332.7 835.46L370.04 825.3L407.38 835.76L444.72 877.82L482.06 878.87L519.4 829.59M332.7 887.53L370.04 932.21L407.38 859.91L444.72 825.3L482.06 850.41L519.4 895.06M332.7 917.12L370.04 825.3L407.38 852.47L444.72 833.18L482.06 834.07L519.4 836.84M332.7 853.09L370.04 928.3L407.38 825.3L444.72 858.75L482.06 877.45L519.4 865.91M332.7 847.32L370.04 848.35L407.38 862.63L444.72 836.98L482.06 825.3L519.4 840.73M332.7 834.44L370.04 865.25L407.38 825.3L444.72 853.29L482.06 859.87L519.4 872.85M332.7 825.3L370.04 940.76L407.38 910.22L444.72 940.76L482.06 908.35L519.4 855.4M332.7 853.2L370.04 839.13L407.38 834.68L444.72 825.3L482.06 850.11L519.4 861.83M332.7 857.35L370.04 861.7L407.38 825.3L444.72 860.38L482.06 895.18L519.4 853.96M332.7 858.07L370.04 831.99L407.38 871.41L444.72 844.3L482.06 825.3L519.4 851.14M332.7 864.11L370.04 868.16L407.38 844.14L444.72 825.3L482.06 868.92L519.4 827.66M332.7 835.14L370.04 825.3L407.38 832.24L444.72 847.2L482.06 853.75L519.4 882.53M332.7 900.56L370.04 825.3L407.38 938.11L444.72 935.63L482.06 840.84L519.4 832.8M332.7 856.7L370.04 926.17L407.38 825.3L444.72 940.76L482.06 940.76L519.4 888.82M332.7 861.3L370.04 899.83L407.38 848.9L444.72 841.03L482.06 825.3L519.4 882.6M332.7 829.88L370.04 825.3L407.38 834.12L444.72 845.71L482.06 831.08L519.4 864.3M332.7 845.8L370.04 848.86L407.38 880.56L444.72 825.3L482.06 916.47L519.4 900.52M332.7 848.4L370.04 840.02L407.38 830.48L444.72 897.06L482.06 825.3L519.4 916.6M332.7 842.97L370.04 854.49L407.38 825.3L444.72 890.36L482.06 825.85L519.4 831.43M332.7 894.2L370.04 825.3L407.38 857.45L444.72 852.58L482.06 914.93L519.4 870.31M332.7 899.29L370.04 840.31L407.38 825.3L444.72 827.07L482.06 879.54L519.4 932.07M332.7 855.99L370.04 842.74L407.38 890.88L444.72 825.3L482.06 826.03L519.4 859.99M332.7 942.44L370.04 981.12L407.38 903.77L444.72 870.14L482.06 858.93L519.4 836.51M332.7 914.98L370.04 903.77L407.38 983.36L444.72 881.35L482.06 847.72L519.4 858.93M332.7 931.79L370.04 870.14L407.38 948.61L444.72 935.16L482.06 993.45L519.4 1027.08M332.7 903.77L370.04 937.4L407.38 914.98L444.72 926.19L482.06 959.82L519.4 964.3M332.7 870.14L370.04 881.35L407.38 858.93L444.72 892.56L482.06 937.4L519.4 960.94" stroke="#55BC41" stroke-width="1.5" fill="none" stroke-linejoin="round" stroke-linecap="round"/>
<rect x="311.8" y="798.2" width="229.6" height="595.1" fill="none" stroke="#000" stroke-width="1.7"/>
<path d="M332.7 1393.3V1397.8M370.04 1393.3V1397.8M407.38 1393.3V1397.8M444.72 1393.3V1397.8M482.06 1393.3V1397.8M519.4 1393.3V1397.8" stroke="#111" stroke-width="1.7" fill="none"/>
<text class="b" x="332.7" y="1407.7" font-size="11.7" fill="#222" color="#222" text-anchor="middle">A0</text>
<text class="b" x="370.04" y="1407.7" font-size="11.7" fill="#222" color="#222" text-anchor="middle">A4</text>
<text class="b" x="407.38" y="1407.7" font-size="11.7" fill="#222" color="#222" text-anchor="middle">A8</text>
<text class="b" x="444.72" y="1407.7" font-size="11.7" fill="#222" color="#222" text-anchor="middle">A12</text>
<text class="b" x="482.06" y="1407.7" font-size="11.7" fill="#222" color="#222" text-anchor="middle">A16</text>
<text class="b" x="519.4" y="1407.7" font-size="11.7" fill="#222" color="#222" text-anchor="middle">A24</text>
<rect x="549.1" y="774.4" width="229.8" height="23.8" fill="#fff" stroke="#000" stroke-width="1.7"/>
<rect x="551.7" y="777" width="224.6" height="18.6" fill="#D4D4D4"/>
<text class="s" x="664" y="790.4" font-size="11.8" fill="#111" color="#111" text-anchor="middle">Cluster_9</text>
<path d="M552.1 881.35H775.9M552.1 993.45H775.9M552.1 1105.55H775.9M552.1 1217.65H775.9M552.1 1329.75H775.9M552.1 825.3H775.9M552.1 937.4H775.9M552.1 1049.5H775.9M552.1 1161.6H775.9M552.1 1273.7H775.9M552.1 1385.8H775.9M570.1 801.2V1390.3M607.4 801.2V1390.3M644.7 801.2V1390.3M682 801.2V1390.3M719.3 801.2V1390.3M756.6 801.2V1390.3" stroke="#E6E6E6" stroke-width="1.3" fill="none"/>
<path d="M570.1 825.3L607.4 825.3L644.7 827.54L682 948.61L719.3 941.88L756.6 971.03M570.1 1111.15L607.4 836.51L644.7 851.08L682 974.39L719.3 975.51L756.6 936.28M570.1 1148.15L607.4 840.99L644.7 857.81L682 993.45L719.3 1009.14L756.6 1022.6M570.1 825.3L607.4 995.69L644.7 962.06L682 974.39L719.3 1049.5L756.6 1034.93M570.1 825.3L607.4 881.35L644.7 1020.35L682 1030.44L719.3 1036.05L756.6 1040.53M570.1 825.3L607.4 903.77L644.7 1079.77L682 1079.77L719.3 1064.07L756.6 1080.89M570.1 825.3L607.4 870.14L644.7 937.4L682 1049.5L719.3 1085.37L756.6 1086.49M570.1 825.3L607.4 892.56L644.7 959.82L682 1094.34L719.3 1049.5L756.6 1099.94M570.1 825.3L607.4 914.98L644.7 993.45L682 1060.71L719.3 1083.13L756.6 1107.79M570.1 825.3L607.4 881.35L644.7 971.03L682 1027.08L719.3 1060.71L756.6 1122.37M570.1 825.3L607.4 858.93L644.7 948.61L682 1015.87L719.3 1049.5L756.6 1167.2M570.1 825.3L607.4 903.77L644.7 1004.66L682 1152.63L719.3 1206.44L756.6 1363.38M570.1 825.3L607.4 870.14L644.7 982.24L682 1094.34L719.3 1172.81L756.6 1318.54M570.1 825.3L607.4 858.93L644.7 926.19L682 982.24L719.3 1009.14L756.6 972.15M570.1 825.3L607.4 926.19L644.7 1038.29L682 1083.13L719.3 1038.29L756.6 1049.5M570.1 825.3L607.4 870.14L644.7 959.82L682 1004.66L719.3 1060.71L756.6 1083.13M570.1 825.3L607.4 886.96L644.7 982.24L682 1049.5L719.3 1027.08L756.6 1032.68M570.1 825.3L607.4 847.72L644.7 903.77L682 971.03L719.3 1004.66L756.6 1105.55" stroke="#4882F0" stroke-width="1.5" fill="none" stroke-linejoin="round" stroke-linecap="round"/>
<rect x="549.1" y="798.2" width="229.8" height="595.1" fill="none" stroke="#000" stroke-width="1.7"/>
<path d="M570.1 1393.3V1397.8M607.4 1393.3V1397.8M644.7 1393.3V1397.8M682 1393.3V1397.8M719.3 1393.3V1397.8M756.6 1393.3V1397.8" stroke="#111" stroke-width="1.7" fill="none"/>
<text class="b" x="570.1" y="1407.7" font-size="11.7" fill="#222" color="#222" text-anchor="middle">A0</text>
<text class="b" x="607.4" y="1407.7" font-size="11.7" fill="#222" color="#222" text-anchor="middle">A4</text>
<text class="b" x="644.7" y="1407.7" font-size="11.7" fill="#222" color="#222" text-anchor="middle">A8</text>
<text class="b" x="682" y="1407.7" font-size="11.7" fill="#222" color="#222" text-anchor="middle">A12</text>
<text class="b" x="719.3" y="1407.7" font-size="11.7" fill="#222" color="#222" text-anchor="middle">A16</text>
<text class="b" x="756.6" y="1407.7" font-size="11.7" fill="#222" color="#222" text-anchor="middle">A24</text>
<text class="b" x="67.4" y="830.1" font-size="11.7" fill="#222" color="#222" text-anchor="end">1.0</text>
<text class="b" x="67.4" y="942.2" font-size="11.7" fill="#222" color="#222" text-anchor="end">0.9</text>
<text class="b" x="67.4" y="1054.3" font-size="11.7" fill="#222" color="#222" text-anchor="end">0.8</text>
<text class="b" x="67.4" y="1166.4" font-size="11.7" fill="#222" color="#222" text-anchor="end">0.7</text>
<text class="b" x="67.4" y="1278.5" font-size="11.7" fill="#222" color="#222" text-anchor="end">0.6</text>
<text class="b" x="67.4" y="1390.6" font-size="11.7" fill="#222" color="#222" text-anchor="end">0.5</text>
<path d="M69.9 825.3H74.9M69.9 937.4H74.9M69.9 1049.5H74.9M69.9 1161.6H74.9M69.9 1273.7H74.9M69.9 1385.8H74.9" stroke="#111" stroke-width="1.7" fill="none"/>
<text class="b" x="427.6" y="1424" font-size="14.75" fill="#000" color="#000" text-anchor="middle">Time after imbibition</text>
<text class="b" transform="translate(45.1 1095.75) rotate(-90)" font-size="14.75" fill="#000" color="#000" text-anchor="middle">Normalised transcript abundance (AU)</text>
<text class="s" x="800.7" y="1064.9" font-size="14.0" fill="#000" color="#000">cluster</text>
<path d="M802.6 1085.4H819.9" stroke="#E84E49" stroke-width="1.6"/>
<text class="s" x="829.5" y="1089.1" font-size="11.7" fill="#000" color="#000">Cluster_10</text>
<path d="M802.6 1106.3H819.9" stroke="#55BC41" stroke-width="1.6"/>
<text class="s" x="829.5" y="1110.2" font-size="11.7" fill="#000" color="#000">Cluster_11</text>
<path d="M802.6 1127.4H819.9" stroke="#4882F0" stroke-width="1.6"/>
<text class="s" x="829.5" y="1131" font-size="11.7" fill="#000" color="#000">Cluster_9</text>
<text x="866.2" y="728" font-size="30" font-weight="bold" fill="#000">D</text>
<text class="m" x="952.1" y="764.3" font-size="18" fill="#000" color="#000" textLength="585.6" lengthAdjust="spacingAndGlyphs">10 transcripts corresponding to 10 proteins up-accumulated in the endosperm</text>
<rect x="950.5" y="774.4" width="348.4" height="23.8" fill="#fff" stroke="#000" stroke-width="1.7"/>
<rect x="953.1" y="777" width="343.2" height="18.6" fill="#D4D4D4"/>
<text class="s" x="1124.7" y="790.4" font-size="11.8" fill="#111" color="#111" text-anchor="middle">Cluster_7</text>
<path d="M953.5 884.5H1295.9M953.5 1003.9H1295.9M953.5 1123.3H1295.9M953.5 1242.7H1295.9M953.5 1362.1H1295.9M953.5 824.8H1295.9M953.5 944.2H1295.9M953.5 1063.6H1295.9M953.5 1183H1295.9M953.5 1302.4H1295.9M985.3 801.2V1390.3M1041.42 801.2V1390.3M1097.54 801.2V1390.3M1153.66 801.2V1390.3M1209.78 801.2V1390.3M1265.9 801.2V1390.3" stroke="#E6E6E6" stroke-width="1.3" fill="none"/>
<path d="M985.3 1365.68L1041.42 1161.51L1097.54 951.36L1153.66 874.95L1209.78 829.58L1265.9 824.8M985.3 1056.44L1041.42 1134.05L1097.54 1034.94L1153.66 874.95L1209.78 846.29L1265.9 824.8M985.3 1184.19L1041.42 1275.53L1097.54 1061.21L1153.66 896.44L1209.78 868.98L1265.9 824.8M985.3 1243.89L1041.42 1106.58L1097.54 1046.88L1153.66 968.08L1209.78 895.25L1265.9 824.8" stroke="#E84E49" stroke-width="1.5" fill="none" stroke-linejoin="round" stroke-linecap="round"/>
<rect x="950.5" y="798.2" width="348.4" height="595.1" fill="none" stroke="#000" stroke-width="1.7"/>
<path d="M985.3 1393.3V1397.8M1041.42 1393.3V1397.8M1097.54 1393.3V1397.8M1153.66 1393.3V1397.8M1209.78 1393.3V1397.8M1265.9 1393.3V1397.8" stroke="#111" stroke-width="1.7" fill="none"/>
<text class="b" x="985.3" y="1407.7" font-size="11.7" fill="#222" color="#222" text-anchor="middle">A0</text>
<text class="b" x="1041.42" y="1407.7" font-size="11.7" fill="#222" color="#222" text-anchor="middle">A4</text>
<text class="b" x="1097.54" y="1407.7" font-size="11.7" fill="#222" color="#222" text-anchor="middle">A8</text>
<text class="b" x="1153.66" y="1407.7" font-size="11.7" fill="#222" color="#222" text-anchor="middle">A12</text>
<text class="b" x="1209.78" y="1407.7" font-size="11.7" fill="#222" color="#222" text-anchor="middle">A16</text>
<text class="b" x="1265.9" y="1407.7" font-size="11.7" fill="#222" color="#222" text-anchor="middle">A24</text>
<rect x="1306.7" y="774.4" width="348.3" height="23.8" fill="#fff" stroke="#000" stroke-width="1.7"/>
<rect x="1309.3" y="777" width="343.1" height="18.6" fill="#D4D4D4"/>
<text class="s" x="1480.85" y="790.4" font-size="11.8" fill="#111" color="#111" text-anchor="middle">Cluster_8</text>
<path d="M1309.7 884.5H1652M1309.7 1003.9H1652M1309.7 1123.3H1652M1309.7 1242.7H1652M1309.7 1362.1H1652M1309.7 824.8H1652M1309.7 944.2H1652M1309.7 1063.6H1652M1309.7 1183H1652M1309.7 1302.4H1652M1340.9 801.2V1390.3M1397.18 801.2V1390.3M1453.46 801.2V1390.3M1509.74 801.2V1390.3M1566.02 801.2V1390.3M1622.3 801.2V1390.3" stroke="#E6E6E6" stroke-width="1.3" fill="none"/>
<path d="M1340.9 824.8L1397.18 835.55L1453.46 830.77L1509.74 837.93L1566.02 827.19L1622.3 824.8M1340.9 824.8L1397.18 839.13L1453.46 831.96L1509.74 853.46L1566.02 839.13L1622.3 883.31M1340.9 824.8L1397.18 890.47L1453.46 884.5L1509.74 907.19L1566.02 944.2L1622.3 954.95M1340.9 880.92L1397.18 858.23L1453.46 824.8L1509.74 864.2L1566.02 845.1L1622.3 891.66M1340.9 935.25L1397.18 938.23L1453.46 903.6L1509.74 830.77L1566.02 828.38L1622.3 865.4M1340.9 1000.32L1397.18 1018.23L1453.46 932.26L1509.74 824.8L1566.02 824.8L1622.3 846.29" stroke="#17AAAC" stroke-width="1.5" fill="none" stroke-linejoin="round" stroke-linecap="round"/>
<rect x="1306.7" y="798.2" width="348.3" height="595.1" fill="none" stroke="#000" stroke-width="1.7"/>
<path d="M1340.9 1393.3V1397.8M1397.18 1393.3V1397.8M1453.46 1393.3V1397.8M1509.74 1393.3V1397.8M1566.02 1393.3V1397.8M1622.3 1393.3V1397.8" stroke="#111" stroke-width="1.7" fill="none"/>
<text class="b" x="1340.9" y="1407.7" font-size="11.7" fill="#222" color="#222" text-anchor="middle">A0</text>
<text class="b" x="1397.18" y="1407.7" font-size="11.7" fill="#222" color="#222" text-anchor="middle">A4</text>
<text class="b" x="1453.46" y="1407.7" font-size="11.7" fill="#222" color="#222" text-anchor="middle">A8</text>
<text class="b" x="1509.74" y="1407.7" font-size="11.7" fill="#222" color="#222" text-anchor="middle">A12</text>
<text class="b" x="1566.02" y="1407.7" font-size="11.7" fill="#222" color="#222" text-anchor="middle">A16</text>
<text class="b" x="1622.3" y="1407.7" font-size="11.7" fill="#222" color="#222" text-anchor="middle">A24</text>
<text class="b" x="943" y="829.6" font-size="11.7" fill="#222" color="#222" text-anchor="end">1.0</text>
<text class="b" x="943" y="949" font-size="11.7" fill="#222" color="#222" text-anchor="end">0.9</text>
<text class="b" x="943" y="1068.4" font-size="11.7" fill="#222" color="#222" text-anchor="end">0.8</text>
<text class="b" x="943" y="1187.8" font-size="11.7" fill="#222" color="#222" text-anchor="end">0.7</text>
<text class="b" x="943" y="1307.2" font-size="11.7" fill="#222" color="#222" text-anchor="end">0.6</text>
<path d="M945.5 824.8H950.5M945.5 944.2H950.5M945.5 1063.6H950.5M945.5 1183H950.5M945.5 1302.4H950.5" stroke="#111" stroke-width="1.7" fill="none"/>
<text class="b" x="1304.2" y="1424" font-size="14.75" fill="#000" color="#000" text-anchor="middle">Time after imbibition</text>
<text class="b" transform="translate(920.7 1095.75) rotate(-90)" font-size="14.75" fill="#000" color="#000" text-anchor="middle">Normalised transcript abundance (AU)</text>
<text class="s" x="1677.7" y="1075.4" font-size="14.0" fill="#000" color="#000">cluster</text>
<path d="M1678.7 1096H1698" stroke="#E84E49" stroke-width="1.6"/>
<text class="s" x="1706.5" y="1099.8" font-size="11.7" fill="#000" color="#000">Cluster_7</text>
<path d="M1678.7 1116.9H1698" stroke="#17AAAC" stroke-width="1.6"/>
<text class="s" x="1706.5" y="1120.4" font-size="11.7" fill="#000" color="#000">Cluster_8</text>
</svg></body></html>
